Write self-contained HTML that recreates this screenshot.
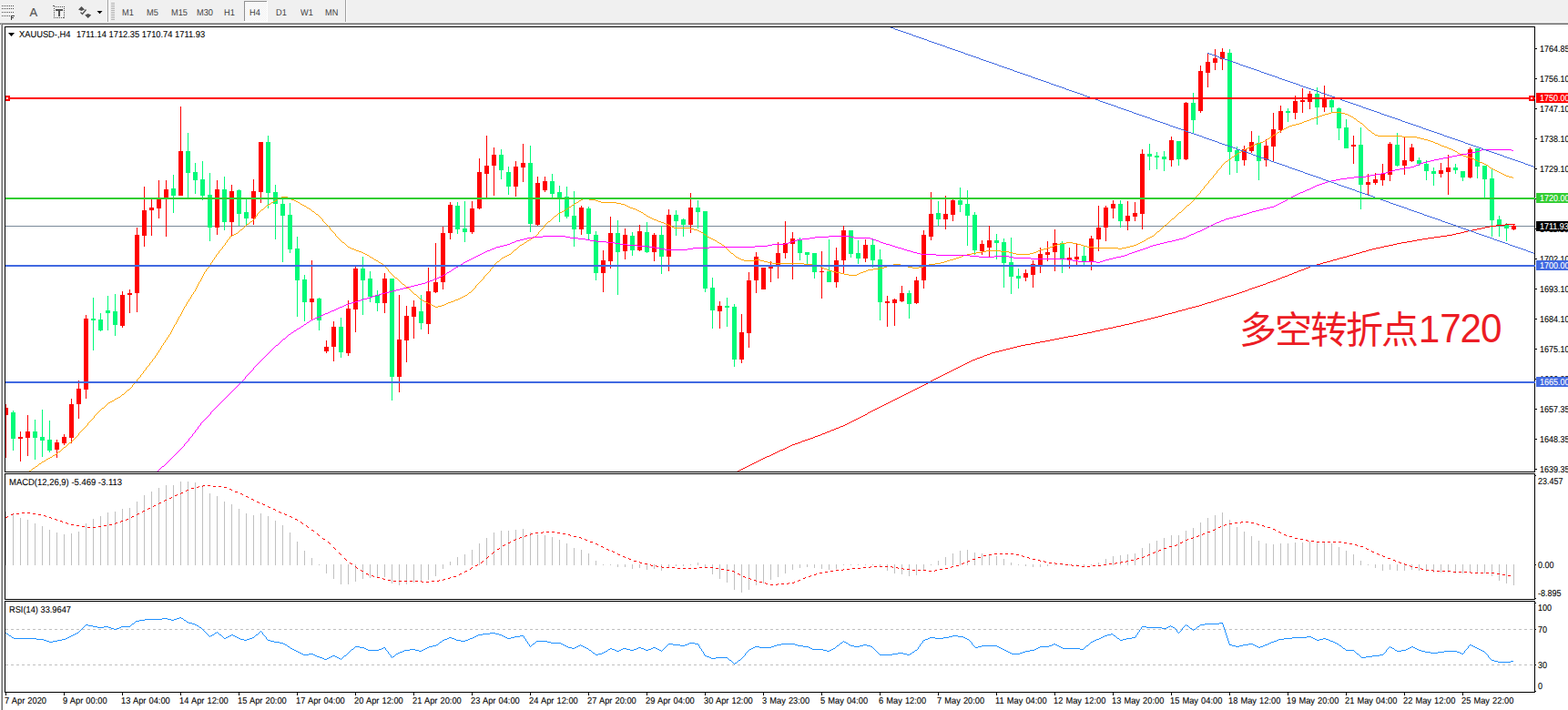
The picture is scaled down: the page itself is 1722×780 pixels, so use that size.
<!DOCTYPE html>
<html><head><meta charset="utf-8"><title>XAUUSD H4</title>
<style>
html,body{margin:0;padding:0;background:#fff;}
body{width:1722px;height:780px;position:relative;overflow:hidden;font-family:"Liberation Sans",sans-serif;}
.t{position:absolute;font-family:"Liberation Sans",sans-serif;font-size:10px;line-height:11px;text-rendering:geometricPrecision;-webkit-text-stroke:0.1px;color:#000;white-space:nowrap;transform-origin:0 0;}
.ax{transform:scaleX(.9);}
.tm{transform:scaleX(.928);word-spacing:0.6px;}
.tf{transform:scaleX(.92);color:#404040;-webkit-text-stroke:0;}
</style></head><body>
<div style="position:absolute;left:0;top:0;width:1722px;height:25px;background:#F0F0F0"></div><div style="position:absolute;left:0;top:24px;width:1722px;height:1px;background:#F6F6F6"></div><div style="position:absolute;left:0;top:25px;width:1722px;height:1px;background:#A8A8A8"></div><div style="position:absolute;left:0;top:26px;width:1722px;height:1px;background:#6E6E6E"></div><div style="position:absolute;left:1px;top:26px;width:1px;height:754px;background:#B0B0B0"></div><div style="position:absolute;left:2px;top:26px;width:1px;height:754px;background:#6E6E6E"></div><div style="position:absolute;left:118px;top:0;width:1px;height:24px;background:#A0A0A0"></div><div style="position:absolute;left:119px;top:0;width:1px;height:24px;background:#FFFFFF"></div><div style="position:absolute;left:379px;top:0;width:1px;height:24px;background:#A0A0A0"></div><div style="position:absolute;left:380px;top:0;width:1px;height:24px;background:#FFFFFF"></div><svg style="position:absolute;left:0;top:0" width="400" height="25" shape-rendering="crispEdges">
<rect x="122" y="3" width="4" height="1" fill="#B4B4B4"/><rect x="122" y="5" width="4" height="1" fill="#B4B4B4"/><rect x="122" y="7" width="4" height="1" fill="#B4B4B4"/><rect x="122" y="9" width="4" height="1" fill="#B4B4B4"/><rect x="122" y="11" width="4" height="1" fill="#B4B4B4"/><rect x="122" y="13" width="4" height="1" fill="#B4B4B4"/><rect x="122" y="15" width="4" height="1" fill="#B4B4B4"/><rect x="122" y="17" width="4" height="1" fill="#B4B4B4"/><rect x="122" y="19" width="4" height="1" fill="#B4B4B4"/><rect x="122" y="21" width="4" height="1" fill="#B4B4B4"/>
<g stroke="#505050" stroke-width="1" stroke-dasharray="1 1">
<line x1="2" y1="6.5" x2="15" y2="6.5"/><line x1="2" y1="9.5" x2="15" y2="9.5"/><line x1="2" y1="13.5" x2="15" y2="13.5"/><line x1="2" y1="17.5" x2="11" y2="17.5"/>
<rect x="59.5" y="7.5" width="11" height="12" fill="none"/>
</g>
<path d="M12 17h4v1h-3v1h2v1h-2v2h-1z" fill="#404040"/>
<path d="M61 10h8v2h-3v6h-2v-6h-3z" fill="#555"/>
<path d="M58 6h2v1h1v1h-1v-1h-2z" fill="#555"/>
<g shape-rendering="auto"><path d="M89.5 7l3.5 3.5h-7z M86 10.5h7l-3.5 1.5z" fill="#505050"/><path d="M96.7 20l3.5-3.5h-7z M93.2 16.500h7l-3.5-1.5z" fill="#505050"/><path d="M88.5 13.500l2 2 4-5" fill="none" stroke="#505050" stroke-width="1.3"/></g>
<path d="M106.500 12h6l-3 3.300z" fill="#000" shape-rendering="auto"/>
<defs><pattern id="chk" width="2" height="2" patternUnits="userSpaceOnUse"><rect width="2" height="2" fill="#F0F0F0"/><rect width="1" height="1" fill="#FFF"/><rect x="1" y="1" width="1" height="1" fill="#FFF"/></pattern></defs>
<rect x="269" y="2" width="24" height="21" fill="url(#chk)"/>
<rect x="268" y="1" width="25" height="1" fill="#909090"/><rect x="268" y="1" width="1" height="22" fill="#909090"/>
<rect x="293" y="1" width="1" height="23" fill="#FFF"/><rect x="268" y="23" width="26" height="1" fill="#FFF"/>
</svg><div class="t" style="left:32.500px;top:6.500px;font-size:13px;color:#555;line-height:14px;-webkit-text-stroke:0.15px #555">A</div><div class="t tf" style="left:133.6px;top:9px">M1</div><div class="t tf" style="left:161.4px;top:9px">M5</div><div class="t tf" style="left:187.5px;top:9px">M15</div><div class="t tf" style="left:215.8px;top:9px">M30</div><div class="t tf" style="left:246.4px;top:9px">H1</div><div class="t tf" style="left:273.7px;top:9px">H4</div><div class="t tf" style="left:302.5px;top:9px">D1</div><div class="t tf" style="left:329.8px;top:9px">W1</div><div class="t tf" style="left:356.7px;top:9px">MN</div>
<svg style="position:absolute;left:0;top:0" width="1722" height="780" shape-rendering="crispEdges">
<defs><clipPath id="cm"><rect x="6" y="30" width="1679" height="488"/></clipPath><clipPath id="cd"><rect x="6" y="521" width="1679" height="137"/></clipPath><clipPath id="cr"><rect x="6" y="661" width="1679" height="99"/></clipPath></defs>
<g clip-path="url(#cm)">
<rect x="5" y="248" width="1680" height="1" fill="#7A8A9A"/>
<rect x="6" y="444" width="1" height="59" fill="#FF0000"/>
<rect x="4" y="448" width="5" height="8" fill="#FF0000"/>
<rect x="14" y="451" width="1" height="44" fill="#00FA78"/>
<rect x="12" y="453" width="5" height="29" fill="#00FA78"/>
<rect x="22" y="474" width="1" height="33" fill="#FF0000"/>
<rect x="20" y="480" width="5" height="2" fill="#FF0000"/>
<rect x="30" y="456" width="1" height="45" fill="#FF0000"/>
<rect x="28" y="474" width="5" height="7" fill="#FF0000"/>
<rect x="38" y="461" width="1" height="44" fill="#00FA78"/>
<rect x="36" y="474" width="5" height="7" fill="#00FA78"/>
<rect x="46" y="450" width="1" height="52" fill="#00FA78"/>
<rect x="44" y="480" width="5" height="4" fill="#00FA78"/>
<rect x="54" y="462" width="1" height="35" fill="#00FA78"/>
<rect x="52" y="483" width="5" height="12" fill="#00FA78"/>
<rect x="62" y="483" width="1" height="20" fill="#FF0000"/>
<rect x="60" y="486" width="5" height="8" fill="#FF0000"/>
<rect x="70" y="477" width="1" height="12" fill="#FF0000"/>
<rect x="68" y="480" width="5" height="7" fill="#FF0000"/>
<rect x="78" y="438" width="1" height="49" fill="#FF0000"/>
<rect x="76" y="444" width="5" height="37" fill="#FF0000"/>
<rect x="86" y="418" width="1" height="42" fill="#FF0000"/>
<rect x="84" y="427" width="5" height="17" fill="#FF0000"/>
<rect x="94" y="346" width="1" height="92" fill="#FF0000"/>
<rect x="92" y="350" width="5" height="78" fill="#FF0000"/>
<rect x="102" y="327" width="1" height="58" fill="#00FA78"/>
<rect x="100" y="350" width="5" height="2" fill="#00FA78"/>
<rect x="110" y="344" width="1" height="20" fill="#00FA78"/>
<rect x="108" y="351" width="5" height="12" fill="#00FA78"/>
<rect x="118" y="325" width="1" height="38" fill="#00FA78"/>
<rect x="116" y="341" width="5" height="3" fill="#00FA78"/>
<rect x="126" y="323" width="1" height="46" fill="#00FA78"/>
<rect x="124" y="342" width="5" height="15" fill="#00FA78"/>
<rect x="134" y="320" width="1" height="40" fill="#FF0000"/>
<rect x="132" y="324" width="5" height="34" fill="#FF0000"/>
<rect x="142" y="318" width="1" height="26" fill="#FF0000"/>
<rect x="140" y="322" width="5" height="2" fill="#FF0000"/>
<rect x="150" y="250" width="1" height="93" fill="#FF0000"/>
<rect x="148" y="258" width="5" height="64" fill="#FF0000"/>
<rect x="158" y="205" width="1" height="66" fill="#FF0000"/>
<rect x="156" y="231" width="5" height="28" fill="#FF0000"/>
<rect x="166" y="218" width="1" height="41" fill="#FF0000"/>
<rect x="164" y="228" width="5" height="3" fill="#FF0000"/>
<rect x="174" y="198" width="1" height="42" fill="#FF0000"/>
<rect x="172" y="218" width="5" height="11" fill="#FF0000"/>
<rect x="182" y="198" width="1" height="62" fill="#FF0000"/>
<rect x="180" y="208" width="5" height="10" fill="#FF0000"/>
<rect x="190" y="192" width="1" height="42" fill="#00FA78"/>
<rect x="188" y="207" width="5" height="8" fill="#00FA78"/>
<rect x="198" y="117" width="1" height="98" fill="#FF0000"/>
<rect x="196" y="166" width="5" height="49" fill="#FF0000"/>
<rect x="206" y="146" width="1" height="71" fill="#00FA78"/>
<rect x="204" y="166" width="5" height="24" fill="#00FA78"/>
<rect x="214" y="179" width="1" height="34" fill="#00FA78"/>
<rect x="212" y="189" width="5" height="9" fill="#00FA78"/>
<rect x="222" y="177" width="1" height="43" fill="#00FA78"/>
<rect x="220" y="197" width="5" height="18" fill="#00FA78"/>
<rect x="230" y="190" width="1" height="75" fill="#00FA78"/>
<rect x="228" y="214" width="5" height="36" fill="#00FA78"/>
<rect x="238" y="198" width="1" height="60" fill="#FF0000"/>
<rect x="236" y="208" width="5" height="42" fill="#FF0000"/>
<rect x="246" y="194" width="1" height="59" fill="#00FA78"/>
<rect x="244" y="208" width="5" height="36" fill="#00FA78"/>
<rect x="254" y="203" width="1" height="56" fill="#FF0000"/>
<rect x="252" y="210" width="5" height="34" fill="#FF0000"/>
<rect x="262" y="208" width="1" height="40" fill="#00FA78"/>
<rect x="260" y="209" width="5" height="26" fill="#00FA78"/>
<rect x="270" y="218" width="1" height="30" fill="#00FA78"/>
<rect x="268" y="233" width="5" height="7" fill="#00FA78"/>
<rect x="278" y="197" width="1" height="50" fill="#FF0000"/>
<rect x="276" y="210" width="5" height="30" fill="#FF0000"/>
<rect x="286" y="156" width="1" height="67" fill="#FF0000"/>
<rect x="284" y="156" width="5" height="55" fill="#FF0000"/>
<rect x="294" y="149" width="1" height="80" fill="#00FA78"/>
<rect x="292" y="156" width="5" height="56" fill="#00FA78"/>
<rect x="302" y="203" width="1" height="60" fill="#00FA78"/>
<rect x="300" y="211" width="5" height="13" fill="#00FA78"/>
<rect x="310" y="216" width="1" height="72" fill="#00FA78"/>
<rect x="308" y="224" width="5" height="13" fill="#00FA78"/>
<rect x="318" y="223" width="1" height="55" fill="#00FA78"/>
<rect x="316" y="236" width="5" height="38" fill="#00FA78"/>
<rect x="326" y="260" width="1" height="88" fill="#00FA78"/>
<rect x="324" y="273" width="5" height="35" fill="#00FA78"/>
<rect x="334" y="302" width="1" height="51" fill="#00FA78"/>
<rect x="332" y="307" width="5" height="25" fill="#00FA78"/>
<rect x="342" y="286" width="1" height="66" fill="#FF0000"/>
<rect x="340" y="328" width="5" height="4" fill="#FF0000"/>
<rect x="350" y="327" width="1" height="36" fill="#00FA78"/>
<rect x="348" y="328" width="5" height="24" fill="#00FA78"/>
<rect x="358" y="374" width="1" height="14" fill="#FF0000"/>
<rect x="356" y="381" width="5" height="5" fill="#FF0000"/>
<rect x="366" y="353" width="1" height="44" fill="#FF0000"/>
<rect x="364" y="359" width="5" height="22" fill="#FF0000"/>
<rect x="374" y="349" width="1" height="44" fill="#00FA78"/>
<rect x="372" y="359" width="5" height="28" fill="#00FA78"/>
<rect x="382" y="330" width="1" height="61" fill="#FF0000"/>
<rect x="380" y="339" width="5" height="49" fill="#FF0000"/>
<rect x="390" y="293" width="1" height="72" fill="#FF0000"/>
<rect x="388" y="295" width="5" height="45" fill="#FF0000"/>
<rect x="398" y="282" width="1" height="64" fill="#00FA78"/>
<rect x="396" y="295" width="5" height="13" fill="#00FA78"/>
<rect x="406" y="298" width="1" height="34" fill="#00FA78"/>
<rect x="404" y="306" width="5" height="20" fill="#00FA78"/>
<rect x="414" y="319" width="1" height="23" fill="#00FA78"/>
<rect x="412" y="324" width="5" height="9" fill="#00FA78"/>
<rect x="422" y="300" width="1" height="44" fill="#FF0000"/>
<rect x="420" y="306" width="5" height="27" fill="#FF0000"/>
<rect x="430" y="306" width="1" height="134" fill="#00FA78"/>
<rect x="428" y="306" width="5" height="108" fill="#00FA78"/>
<rect x="438" y="324" width="1" height="107" fill="#FF0000"/>
<rect x="436" y="373" width="5" height="41" fill="#FF0000"/>
<rect x="446" y="336" width="1" height="62" fill="#FF0000"/>
<rect x="444" y="347" width="5" height="27" fill="#FF0000"/>
<rect x="454" y="330" width="1" height="42" fill="#FF0000"/>
<rect x="452" y="337" width="5" height="11" fill="#FF0000"/>
<rect x="462" y="324" width="1" height="38" fill="#00FA78"/>
<rect x="460" y="342" width="5" height="13" fill="#00FA78"/>
<rect x="470" y="294" width="1" height="73" fill="#FF0000"/>
<rect x="468" y="320" width="5" height="36" fill="#FF0000"/>
<rect x="478" y="267" width="1" height="55" fill="#FF0000"/>
<rect x="476" y="310" width="5" height="11" fill="#FF0000"/>
<rect x="486" y="249" width="1" height="69" fill="#FF0000"/>
<rect x="484" y="256" width="5" height="54" fill="#FF0000"/>
<rect x="494" y="222" width="1" height="41" fill="#FF0000"/>
<rect x="492" y="225" width="5" height="31" fill="#FF0000"/>
<rect x="502" y="222" width="1" height="35" fill="#00FA78"/>
<rect x="500" y="226" width="5" height="26" fill="#00FA78"/>
<rect x="510" y="221" width="1" height="45" fill="#00FA78"/>
<rect x="508" y="251" width="5" height="4" fill="#00FA78"/>
<rect x="518" y="221" width="1" height="36" fill="#FF0000"/>
<rect x="516" y="229" width="5" height="26" fill="#FF0000"/>
<rect x="526" y="174" width="1" height="56" fill="#FF0000"/>
<rect x="524" y="189" width="5" height="40" fill="#FF0000"/>
<rect x="534" y="149" width="1" height="68" fill="#FF0000"/>
<rect x="532" y="182" width="5" height="9" fill="#FF0000"/>
<rect x="542" y="162" width="1" height="53" fill="#FF0000"/>
<rect x="540" y="170" width="5" height="12" fill="#FF0000"/>
<rect x="550" y="164" width="1" height="33" fill="#00FA78"/>
<rect x="548" y="170" width="5" height="17" fill="#00FA78"/>
<rect x="558" y="183" width="1" height="31" fill="#00FA78"/>
<rect x="556" y="189" width="5" height="16" fill="#00FA78"/>
<rect x="566" y="177" width="1" height="39" fill="#FF0000"/>
<rect x="564" y="183" width="5" height="22" fill="#FF0000"/>
<rect x="574" y="158" width="1" height="42" fill="#FF0000"/>
<rect x="572" y="179" width="5" height="5" fill="#FF0000"/>
<rect x="582" y="160" width="1" height="95" fill="#00FA78"/>
<rect x="580" y="179" width="5" height="67" fill="#00FA78"/>
<rect x="590" y="194" width="1" height="54" fill="#FF0000"/>
<rect x="588" y="201" width="5" height="46" fill="#FF0000"/>
<rect x="598" y="194" width="1" height="17" fill="#FF0000"/>
<rect x="596" y="199" width="5" height="10" fill="#FF0000"/>
<rect x="606" y="191" width="1" height="26" fill="#00FA78"/>
<rect x="604" y="199" width="5" height="14" fill="#00FA78"/>
<rect x="614" y="204" width="1" height="40" fill="#00FA78"/>
<rect x="612" y="211" width="5" height="6" fill="#00FA78"/>
<rect x="622" y="205" width="1" height="35" fill="#00FA78"/>
<rect x="620" y="216" width="5" height="22" fill="#00FA78"/>
<rect x="630" y="210" width="1" height="61" fill="#00FA78"/>
<rect x="628" y="237" width="5" height="15" fill="#00FA78"/>
<rect x="638" y="226" width="1" height="32" fill="#FF0000"/>
<rect x="636" y="228" width="5" height="24" fill="#FF0000"/>
<rect x="646" y="227" width="1" height="36" fill="#00FA78"/>
<rect x="644" y="229" width="5" height="28" fill="#00FA78"/>
<rect x="654" y="254" width="1" height="54" fill="#00FA78"/>
<rect x="652" y="258" width="5" height="42" fill="#00FA78"/>
<rect x="662" y="275" width="1" height="46" fill="#FF0000"/>
<rect x="660" y="286" width="5" height="14" fill="#FF0000"/>
<rect x="670" y="238" width="1" height="57" fill="#FF0000"/>
<rect x="668" y="256" width="5" height="31" fill="#FF0000"/>
<rect x="678" y="242" width="1" height="82" fill="#00FA78"/>
<rect x="676" y="256" width="5" height="21" fill="#00FA78"/>
<rect x="686" y="251" width="1" height="34" fill="#FF0000"/>
<rect x="684" y="258" width="5" height="18" fill="#FF0000"/>
<rect x="694" y="255" width="1" height="26" fill="#00FA78"/>
<rect x="692" y="259" width="5" height="16" fill="#00FA78"/>
<rect x="702" y="247" width="1" height="29" fill="#FF0000"/>
<rect x="700" y="254" width="5" height="21" fill="#FF0000"/>
<rect x="710" y="244" width="1" height="34" fill="#00FA78"/>
<rect x="708" y="255" width="5" height="22" fill="#00FA78"/>
<rect x="718" y="256" width="1" height="31" fill="#FF0000"/>
<rect x="716" y="258" width="5" height="19" fill="#FF0000"/>
<rect x="726" y="248" width="1" height="53" fill="#00FA78"/>
<rect x="724" y="258" width="5" height="24" fill="#00FA78"/>
<rect x="734" y="230" width="1" height="68" fill="#FF0000"/>
<rect x="732" y="236" width="5" height="46" fill="#FF0000"/>
<rect x="742" y="231" width="1" height="28" fill="#00FA78"/>
<rect x="740" y="236" width="5" height="7" fill="#00FA78"/>
<rect x="750" y="240" width="1" height="20" fill="#00FA78"/>
<rect x="748" y="241" width="5" height="6" fill="#00FA78"/>
<rect x="758" y="212" width="1" height="44" fill="#FF0000"/>
<rect x="756" y="228" width="5" height="19" fill="#FF0000"/>
<rect x="766" y="220" width="1" height="31" fill="#00FA78"/>
<rect x="764" y="228" width="5" height="5" fill="#00FA78"/>
<rect x="774" y="232" width="1" height="89" fill="#00FA78"/>
<rect x="772" y="232" width="5" height="85" fill="#00FA78"/>
<rect x="782" y="305" width="1" height="56" fill="#00FA78"/>
<rect x="780" y="316" width="5" height="25" fill="#00FA78"/>
<rect x="790" y="331" width="1" height="30" fill="#FF0000"/>
<rect x="788" y="336" width="5" height="6" fill="#FF0000"/>
<rect x="798" y="327" width="1" height="32" fill="#00FA78"/>
<rect x="796" y="336" width="5" height="2" fill="#00FA78"/>
<rect x="806" y="334" width="1" height="69" fill="#00FA78"/>
<rect x="804" y="337" width="5" height="58" fill="#00FA78"/>
<rect x="814" y="345" width="1" height="54" fill="#FF0000"/>
<rect x="812" y="365" width="5" height="30" fill="#FF0000"/>
<rect x="822" y="299" width="1" height="83" fill="#FF0000"/>
<rect x="820" y="308" width="5" height="58" fill="#FF0000"/>
<rect x="830" y="277" width="1" height="45" fill="#FF0000"/>
<rect x="828" y="282" width="5" height="26" fill="#FF0000"/>
<rect x="838" y="294" width="1" height="24" fill="#FF0000"/>
<rect x="836" y="294" width="5" height="24" fill="#FF0000"/>
<rect x="846" y="287" width="1" height="23" fill="#FF0000"/>
<rect x="844" y="292" width="5" height="3" fill="#FF0000"/>
<rect x="854" y="266" width="1" height="40" fill="#FF0000"/>
<rect x="852" y="278" width="5" height="14" fill="#FF0000"/>
<rect x="862" y="243" width="1" height="41" fill="#FF0000"/>
<rect x="860" y="267" width="5" height="11" fill="#FF0000"/>
<rect x="870" y="255" width="1" height="52" fill="#FF0000"/>
<rect x="868" y="262" width="5" height="6" fill="#FF0000"/>
<rect x="878" y="261" width="1" height="25" fill="#00FA78"/>
<rect x="876" y="263" width="5" height="15" fill="#00FA78"/>
<rect x="886" y="277" width="1" height="13" fill="#00FA78"/>
<rect x="884" y="277" width="5" height="3" fill="#00FA78"/>
<rect x="894" y="278" width="1" height="28" fill="#00FA78"/>
<rect x="892" y="278" width="5" height="21" fill="#00FA78"/>
<rect x="902" y="276" width="1" height="52" fill="#FF0000"/>
<rect x="900" y="298" width="5" height="1" fill="#FF0000"/>
<rect x="910" y="263" width="1" height="47" fill="#00FA78"/>
<rect x="908" y="298" width="5" height="12" fill="#00FA78"/>
<rect x="918" y="272" width="1" height="44" fill="#FF0000"/>
<rect x="916" y="286" width="5" height="24" fill="#FF0000"/>
<rect x="926" y="248" width="1" height="52" fill="#FF0000"/>
<rect x="924" y="253" width="5" height="33" fill="#FF0000"/>
<rect x="934" y="253" width="1" height="30" fill="#00FA78"/>
<rect x="932" y="253" width="5" height="26" fill="#00FA78"/>
<rect x="942" y="264" width="1" height="26" fill="#00FA78"/>
<rect x="940" y="278" width="5" height="6" fill="#00FA78"/>
<rect x="950" y="263" width="1" height="25" fill="#FF0000"/>
<rect x="948" y="269" width="5" height="15" fill="#FF0000"/>
<rect x="958" y="263" width="1" height="31" fill="#00FA78"/>
<rect x="956" y="269" width="5" height="17" fill="#00FA78"/>
<rect x="966" y="274" width="1" height="78" fill="#00FA78"/>
<rect x="964" y="285" width="5" height="47" fill="#00FA78"/>
<rect x="974" y="325" width="1" height="34" fill="#FF0000"/>
<rect x="972" y="331" width="5" height="2" fill="#FF0000"/>
<rect x="982" y="328" width="1" height="30" fill="#FF0000"/>
<rect x="980" y="329" width="5" height="4" fill="#FF0000"/>
<rect x="990" y="314" width="1" height="18" fill="#FF0000"/>
<rect x="988" y="322" width="5" height="9" fill="#FF0000"/>
<rect x="998" y="319" width="1" height="31" fill="#00FA78"/>
<rect x="996" y="322" width="5" height="12" fill="#00FA78"/>
<rect x="1006" y="304" width="1" height="30" fill="#FF0000"/>
<rect x="1004" y="308" width="5" height="25" fill="#FF0000"/>
<rect x="1014" y="253" width="1" height="64" fill="#FF0000"/>
<rect x="1012" y="258" width="5" height="50" fill="#FF0000"/>
<rect x="1022" y="211" width="1" height="53" fill="#FF0000"/>
<rect x="1020" y="235" width="5" height="25" fill="#FF0000"/>
<rect x="1030" y="221" width="1" height="27" fill="#00FA78"/>
<rect x="1028" y="234" width="5" height="7" fill="#00FA78"/>
<rect x="1038" y="215" width="1" height="37" fill="#FF0000"/>
<rect x="1036" y="235" width="5" height="6" fill="#FF0000"/>
<rect x="1046" y="219" width="1" height="24" fill="#FF0000"/>
<rect x="1044" y="220" width="5" height="16" fill="#FF0000"/>
<rect x="1054" y="206" width="1" height="27" fill="#00FA78"/>
<rect x="1052" y="220" width="5" height="5" fill="#00FA78"/>
<rect x="1062" y="209" width="1" height="61" fill="#00FA78"/>
<rect x="1060" y="224" width="5" height="13" fill="#00FA78"/>
<rect x="1070" y="233" width="1" height="47" fill="#00FA78"/>
<rect x="1068" y="236" width="5" height="39" fill="#00FA78"/>
<rect x="1078" y="264" width="1" height="16" fill="#FF0000"/>
<rect x="1076" y="268" width="5" height="8" fill="#FF0000"/>
<rect x="1086" y="248" width="1" height="34" fill="#FF0000"/>
<rect x="1084" y="264" width="5" height="8" fill="#FF0000"/>
<rect x="1094" y="257" width="1" height="28" fill="#00FA78"/>
<rect x="1092" y="264" width="5" height="3" fill="#00FA78"/>
<rect x="1102" y="262" width="1" height="54" fill="#00FA78"/>
<rect x="1100" y="266" width="5" height="23" fill="#00FA78"/>
<rect x="1110" y="261" width="1" height="62" fill="#00FA78"/>
<rect x="1108" y="288" width="5" height="16" fill="#00FA78"/>
<rect x="1118" y="295" width="1" height="22" fill="#00FA78"/>
<rect x="1116" y="303" width="5" height="3" fill="#00FA78"/>
<rect x="1126" y="296" width="1" height="13" fill="#FF0000"/>
<rect x="1124" y="300" width="5" height="5" fill="#FF0000"/>
<rect x="1134" y="286" width="1" height="30" fill="#FF0000"/>
<rect x="1132" y="290" width="5" height="12" fill="#FF0000"/>
<rect x="1142" y="272" width="1" height="28" fill="#FF0000"/>
<rect x="1140" y="279" width="5" height="12" fill="#FF0000"/>
<rect x="1150" y="265" width="1" height="22" fill="#FF0000"/>
<rect x="1148" y="277" width="5" height="3" fill="#FF0000"/>
<rect x="1158" y="252" width="1" height="46" fill="#FF0000"/>
<rect x="1156" y="267" width="5" height="10" fill="#FF0000"/>
<rect x="1166" y="265" width="1" height="35" fill="#00FA78"/>
<rect x="1164" y="267" width="5" height="18" fill="#00FA78"/>
<rect x="1174" y="272" width="1" height="23" fill="#FF0000"/>
<rect x="1172" y="283" width="5" height="2" fill="#FF0000"/>
<rect x="1182" y="268" width="1" height="23" fill="#FF0000"/>
<rect x="1180" y="282" width="5" height="3" fill="#FF0000"/>
<rect x="1190" y="271" width="1" height="21" fill="#00FA78"/>
<rect x="1188" y="281" width="5" height="6" fill="#00FA78"/>
<rect x="1198" y="259" width="1" height="38" fill="#FF0000"/>
<rect x="1196" y="262" width="5" height="25" fill="#FF0000"/>
<rect x="1206" y="226" width="1" height="50" fill="#FF0000"/>
<rect x="1204" y="250" width="5" height="13" fill="#FF0000"/>
<rect x="1214" y="226" width="1" height="39" fill="#FF0000"/>
<rect x="1212" y="228" width="5" height="22" fill="#FF0000"/>
<rect x="1222" y="220" width="1" height="20" fill="#FF0000"/>
<rect x="1220" y="224" width="5" height="5" fill="#FF0000"/>
<rect x="1230" y="220" width="1" height="30" fill="#00FA78"/>
<rect x="1228" y="224" width="5" height="19" fill="#00FA78"/>
<rect x="1238" y="221" width="1" height="32" fill="#FF0000"/>
<rect x="1236" y="237" width="5" height="6" fill="#FF0000"/>
<rect x="1246" y="222" width="1" height="21" fill="#FF0000"/>
<rect x="1244" y="234" width="5" height="4" fill="#FF0000"/>
<rect x="1254" y="164" width="1" height="88" fill="#FF0000"/>
<rect x="1252" y="169" width="5" height="66" fill="#FF0000"/>
<rect x="1262" y="158" width="1" height="29" fill="#00FA78"/>
<rect x="1260" y="169" width="5" height="3" fill="#00FA78"/>
<rect x="1270" y="167" width="1" height="19" fill="#00FA78"/>
<rect x="1268" y="171" width="5" height="2" fill="#00FA78"/>
<rect x="1278" y="166" width="1" height="22" fill="#00FA78"/>
<rect x="1276" y="172" width="5" height="3" fill="#00FA78"/>
<rect x="1286" y="150" width="1" height="33" fill="#FF0000"/>
<rect x="1284" y="154" width="5" height="22" fill="#FF0000"/>
<rect x="1294" y="155" width="1" height="27" fill="#00FA78"/>
<rect x="1292" y="155" width="5" height="20" fill="#00FA78"/>
<rect x="1302" y="112" width="1" height="64" fill="#FF0000"/>
<rect x="1300" y="113" width="5" height="62" fill="#FF0000"/>
<rect x="1310" y="102" width="1" height="44" fill="#00FA78"/>
<rect x="1308" y="113" width="5" height="19" fill="#00FA78"/>
<rect x="1318" y="72" width="1" height="52" fill="#FF0000"/>
<rect x="1316" y="78" width="5" height="44" fill="#FF0000"/>
<rect x="1326" y="58" width="1" height="38" fill="#FF0000"/>
<rect x="1324" y="68" width="5" height="12" fill="#FF0000"/>
<rect x="1334" y="54" width="1" height="23" fill="#FF0000"/>
<rect x="1332" y="64" width="5" height="5" fill="#FF0000"/>
<rect x="1342" y="53" width="1" height="24" fill="#FF0000"/>
<rect x="1340" y="57" width="5" height="8" fill="#FF0000"/>
<rect x="1350" y="54" width="1" height="138" fill="#00FA78"/>
<rect x="1348" y="58" width="5" height="109" fill="#00FA78"/>
<rect x="1358" y="161" width="1" height="29" fill="#00FA78"/>
<rect x="1356" y="165" width="5" height="12" fill="#00FA78"/>
<rect x="1366" y="160" width="1" height="22" fill="#FF0000"/>
<rect x="1364" y="164" width="5" height="12" fill="#FF0000"/>
<rect x="1374" y="144" width="1" height="24" fill="#FF0000"/>
<rect x="1372" y="156" width="5" height="10" fill="#FF0000"/>
<rect x="1382" y="149" width="1" height="49" fill="#00FA78"/>
<rect x="1380" y="157" width="5" height="20" fill="#00FA78"/>
<rect x="1390" y="153" width="1" height="30" fill="#FF0000"/>
<rect x="1388" y="160" width="5" height="16" fill="#FF0000"/>
<rect x="1398" y="124" width="1" height="54" fill="#FF0000"/>
<rect x="1396" y="142" width="5" height="19" fill="#FF0000"/>
<rect x="1406" y="116" width="1" height="30" fill="#FF0000"/>
<rect x="1404" y="122" width="5" height="21" fill="#FF0000"/>
<rect x="1414" y="119" width="1" height="15" fill="#00FA78"/>
<rect x="1412" y="122" width="5" height="2" fill="#00FA78"/>
<rect x="1422" y="105" width="1" height="26" fill="#FF0000"/>
<rect x="1420" y="111" width="5" height="13" fill="#FF0000"/>
<rect x="1430" y="97" width="1" height="27" fill="#FF0000"/>
<rect x="1428" y="110" width="5" height="2" fill="#FF0000"/>
<rect x="1438" y="100" width="1" height="20" fill="#FF0000"/>
<rect x="1436" y="103" width="5" height="9" fill="#FF0000"/>
<rect x="1446" y="96" width="1" height="41" fill="#00FA78"/>
<rect x="1444" y="103" width="5" height="15" fill="#00FA78"/>
<rect x="1454" y="94" width="1" height="29" fill="#FF0000"/>
<rect x="1452" y="108" width="5" height="10" fill="#FF0000"/>
<rect x="1462" y="109" width="1" height="15" fill="#00FA78"/>
<rect x="1460" y="110" width="5" height="8" fill="#00FA78"/>
<rect x="1470" y="118" width="1" height="36" fill="#00FA78"/>
<rect x="1468" y="119" width="5" height="22" fill="#00FA78"/>
<rect x="1478" y="131" width="1" height="32" fill="#00FA78"/>
<rect x="1476" y="140" width="5" height="23" fill="#00FA78"/>
<rect x="1486" y="149" width="1" height="31" fill="#FF0000"/>
<rect x="1484" y="159" width="5" height="2" fill="#FF0000"/>
<rect x="1494" y="140" width="1" height="90" fill="#00FA78"/>
<rect x="1492" y="159" width="5" height="44" fill="#00FA78"/>
<rect x="1502" y="191" width="1" height="23" fill="#FF0000"/>
<rect x="1500" y="200" width="5" height="3" fill="#FF0000"/>
<rect x="1510" y="190" width="1" height="13" fill="#FF0000"/>
<rect x="1508" y="197" width="5" height="4" fill="#FF0000"/>
<rect x="1518" y="180" width="1" height="24" fill="#FF0000"/>
<rect x="1516" y="191" width="5" height="7" fill="#FF0000"/>
<rect x="1526" y="156" width="1" height="43" fill="#FF0000"/>
<rect x="1524" y="158" width="5" height="34" fill="#FF0000"/>
<rect x="1534" y="146" width="1" height="37" fill="#00FA78"/>
<rect x="1532" y="159" width="5" height="23" fill="#00FA78"/>
<rect x="1542" y="151" width="1" height="41" fill="#FF0000"/>
<rect x="1540" y="176" width="5" height="6" fill="#FF0000"/>
<rect x="1550" y="158" width="1" height="20" fill="#FF0000"/>
<rect x="1548" y="162" width="5" height="15" fill="#FF0000"/>
<rect x="1558" y="173" width="1" height="9" fill="#00FA78"/>
<rect x="1556" y="176" width="5" height="4" fill="#00FA78"/>
<rect x="1566" y="176" width="1" height="22" fill="#00FA78"/>
<rect x="1564" y="180" width="5" height="8" fill="#00FA78"/>
<rect x="1574" y="184" width="1" height="20" fill="#00FA78"/>
<rect x="1572" y="188" width="5" height="3" fill="#00FA78"/>
<rect x="1582" y="179" width="1" height="16" fill="#FF0000"/>
<rect x="1580" y="187" width="5" height="4" fill="#FF0000"/>
<rect x="1590" y="170" width="1" height="44" fill="#FF0000"/>
<rect x="1588" y="184" width="5" height="5" fill="#FF0000"/>
<rect x="1598" y="180" width="1" height="11" fill="#00FA78"/>
<rect x="1596" y="184" width="5" height="3" fill="#00FA78"/>
<rect x="1606" y="188" width="1" height="11" fill="#00FA78"/>
<rect x="1604" y="188" width="5" height="7" fill="#00FA78"/>
<rect x="1614" y="162" width="1" height="34" fill="#FF0000"/>
<rect x="1612" y="164" width="5" height="31" fill="#FF0000"/>
<rect x="1622" y="163" width="1" height="33" fill="#00FA78"/>
<rect x="1620" y="163" width="5" height="20" fill="#00FA78"/>
<rect x="1630" y="182" width="1" height="35" fill="#00FA78"/>
<rect x="1628" y="182" width="5" height="15" fill="#00FA78"/>
<rect x="1638" y="186" width="1" height="74" fill="#00FA78"/>
<rect x="1636" y="196" width="5" height="46" fill="#00FA78"/>
<rect x="1646" y="237" width="1" height="23" fill="#00FA78"/>
<rect x="1644" y="241" width="5" height="7" fill="#00FA78"/>
<rect x="1654" y="245" width="1" height="20" fill="#00FA78"/>
<rect x="1652" y="247" width="5" height="4" fill="#00FA78"/>
<rect x="1662" y="246" width="1" height="7" fill="#FF0000"/>
<rect x="1660" y="248" width="5" height="4" fill="#FF0000"/>
<path d="M31 518h1v1h-1zM32 517h2v1h-2zM34 516h1v1h-1zM35 515h1v1h-1zM36 514h2v1h-2zM38 513h1v1h-1zM39 512h2v1h-2zM41 511h1v1h-1zM42 510h1v1h-1zM43 509h2v1h-2zM45 508h1v1h-1zM46 507h2v1h-2zM48 506h2v1h-2zM50 505h1v1h-1zM51 504h2v1h-2zM53 503h2v1h-2zM55 502h2v1h-2zM57 501h1v1h-1zM58 500h2v1h-2zM60 499h2v1h-2zM62 498h1v1h-1zM63 497h1v1h-1zM64 496h2v1h-2zM66 495h1v1h-1zM67 494h1v1h-1zM68 493h1v1h-1zM69 492h1v1h-1zM70 491h2v1h-2zM72 490h1v1h-1zM73 489h1v1h-1zM74 488h1v1h-1zM75 487h1v1h-1zM76 486h2v1h-2zM78 485h1v1h-1zM79 484h1v1h-1zM80 483h1v1h-1zM81 482h1v1h-1zM82 481h1v1h-1zM83 480h1v1h-1zM84 479h1v1h-1zM85 478h1v1h-1zM86 476h1v2h-1zM87 475h1v1h-1zM88 474h1v1h-1zM89 473h1v1h-1zM90 472h1v1h-1zM91 471h1v1h-1zM92 470h1v1h-1zM93 469h1v1h-1zM94 468h1v1h-1zM95 467h1v1h-1zM96 465h1v2h-1zM97 464h1v1h-1zM98 463h1v1h-1zM99 462h1v1h-1zM100 461h1v1h-1zM101 460h1v1h-1zM102 459h1v1h-1zM103 457h1v2h-1zM104 456h1v1h-1zM105 455h1v1h-1zM106 454h1v1h-1zM107 453h1v1h-1zM108 452h1v1h-1zM109 451h1v1h-1zM110 450h1v1h-1zM111 449h1v1h-1zM112 448h2v1h-2zM114 447h1v1h-1zM115 446h1v1h-1zM116 445h1v1h-1zM117 444h1v1h-1zM118 443h1v1h-1zM119 442h2v1h-2zM121 441h2v1h-2zM123 440h2v1h-2zM125 439h1v1h-1zM126 438h2v1h-2zM128 437h2v1h-2zM130 436h2v1h-2zM132 435h1v1h-1zM133 434h1v1h-1zM134 433h2v1h-2zM136 432h1v1h-1zM137 431h1v1h-1zM138 430h1v1h-1zM139 429h1v1h-1zM140 428h2v1h-2zM142 427h1v1h-1zM143 426h1v1h-1zM144 425h1v1h-1zM145 423h1v2h-1zM146 422h1v1h-1zM147 421h1v1h-1zM148 420h1v1h-1zM149 419h1v1h-1zM150 417h1v2h-1zM151 416h1v1h-1zM152 415h1v1h-1zM153 414h1v1h-1zM154 412h1v2h-1zM155 411h1v1h-1zM156 410h1v1h-1zM157 408h1v2h-1zM158 407h1v1h-1zM159 406h1v1h-1zM160 404h1v2h-1zM161 403h1v1h-1zM162 402h1v1h-1zM163 401h1v1h-1zM164 399h1v2h-1zM165 398h1v1h-1zM166 397h1v1h-1zM167 395h1v2h-1zM168 394h1v1h-1zM169 393h1v1h-1zM170 391h1v2h-1zM171 390h1v1h-1zM172 388h1v2h-1zM173 387h1v1h-1zM174 385h1v2h-1zM175 384h1v1h-1zM176 382h1v2h-1zM177 380h1v2h-1zM178 379h1v1h-1zM179 377h1v2h-1zM180 376h1v1h-1zM181 374h1v2h-1zM182 373h1v1h-1zM183 371h1v2h-1zM184 370h1v1h-1zM185 368h1v2h-1zM186 367h1v1h-1zM187 365h1v2h-1zM188 363h1v2h-1zM189 361h1v2h-1zM190 359h1v2h-1zM191 357h1v2h-1zM192 356h1v1h-1zM193 354h1v2h-1zM194 352h1v2h-1zM195 350h1v2h-1zM196 348h1v2h-1zM197 347h1v1h-1zM198 345h1v2h-1zM199 343h1v2h-1zM200 341h1v2h-1zM201 339h1v2h-1zM202 337h1v2h-1zM203 336h1v1h-1zM204 334h1v2h-1zM205 332h1v2h-1zM206 331h1v1h-1zM207 329h1v2h-1zM208 328h1v1h-1zM209 326h1v2h-1zM210 324h1v2h-1zM211 323h1v1h-1zM212 321h1v2h-1zM213 320h1v1h-1zM214 318h1v2h-1zM215 316h1v2h-1zM216 314h1v2h-1zM217 312h1v2h-1zM218 310h1v2h-1zM219 309h1v1h-1zM220 307h1v2h-1zM221 305h1v2h-1zM222 303h1v2h-1zM223 301h1v2h-1zM224 299h1v2h-1zM225 298h1v1h-1zM226 296h1v2h-1zM227 295h1v1h-1zM228 294h1v1h-1zM229 292h1v2h-1zM230 291h1v1h-1zM231 289h1v2h-1zM232 288h1v1h-1zM233 286h1v2h-1zM234 285h1v1h-1zM235 283h1v2h-1zM236 282h1v1h-1zM237 280h1v2h-1zM238 279h1v1h-1zM239 278h1v1h-1zM240 276h1v2h-1zM241 275h1v1h-1zM242 274h1v1h-1zM243 273h1v1h-1zM244 271h1v2h-1zM245 270h1v1h-1zM246 269h1v1h-1zM247 267h1v2h-1zM248 266h1v1h-1zM249 264h1v2h-1zM250 263h1v1h-1zM251 262h1v1h-1zM252 260h1v2h-1zM253 259h2v1h-2zM255 258h2v1h-2zM257 257h2v1h-2zM259 256h2v1h-2zM261 255h1v1h-1zM262 254h1v1h-1zM263 253h1v1h-1zM264 252h2v1h-2zM266 251h1v1h-1zM267 250h1v1h-1zM268 249h1v1h-1zM269 248h1v1h-1zM270 247h1v1h-1zM271 246h2v1h-2zM273 245h1v1h-1zM274 244h1v1h-1zM275 243h2v1h-2zM277 242h1v1h-1zM278 241h1v1h-1zM279 239h1v2h-1zM280 238h1v1h-1zM281 237h1v1h-1zM282 235h1v2h-1zM283 234h1v1h-1zM284 233h1v1h-1zM285 232h1v1h-1zM286 231h1v1h-1zM287 230h2v1h-2zM289 229h1v1h-1zM290 228h1v1h-1zM291 227h1v1h-1zM292 226h1v1h-1zM293 225h2v1h-2zM295 224h2v1h-2zM297 223h1v1h-1zM298 222h2v1h-2zM300 221h2v1h-2zM302 220h2v1h-2zM304 219h1v1h-1zM305 218h2v1h-2zM307 217h2v1h-2zM309 216h7v1h-7zM316 217h2v1h-2zM318 218h2v1h-2zM320 219h3v1h-3zM323 220h2v1h-2zM325 221h2v1h-2zM327 222h2v1h-2zM329 223h1v1h-1zM330 224h2v1h-2zM332 225h2v1h-2zM334 226h2v1h-2zM336 227h1v1h-1zM337 228h2v1h-2zM339 229h2v1h-2zM341 230h1v1h-1zM342 231h1v1h-1zM343 232h2v1h-2zM345 233h1v1h-1zM346 234h1v1h-1zM347 235h2v1h-2zM349 236h1v1h-1zM350 237h1v1h-1zM351 238h1v1h-1zM352 239h1v1h-1zM353 240h1v1h-1zM354 241h1v2h-1zM355 243h1v1h-1zM356 244h1v1h-1zM357 245h1v1h-1zM358 246h1v1h-1zM359 247h1v1h-1zM360 248h1v1h-1zM361 249h1v1h-1zM362 250h1v2h-1zM363 252h1v1h-1zM364 253h1v1h-1zM365 254h1v1h-1zM366 255h1v1h-1zM367 256h1v1h-1zM368 257h1v2h-1zM369 259h1v1h-1zM370 260h1v1h-1zM371 261h1v1h-1zM372 262h1v1h-1zM373 263h1v1h-1zM374 264h1v1h-1zM375 265h1v1h-1zM376 266h2v1h-2zM378 267h1v1h-1zM379 268h1v1h-1zM380 269h1v1h-1zM381 270h1v1h-1zM382 271h2v1h-2zM384 272h2v1h-2zM386 273h3v1h-3zM389 274h2v1h-2zM391 275h3v1h-3zM394 276h3v1h-3zM397 277h2v1h-2zM399 278h2v1h-2zM401 279h2v1h-2zM403 280h2v1h-2zM405 281h1v1h-1zM406 282h2v1h-2zM408 283h2v1h-2zM410 284h1v1h-1zM411 285h2v1h-2zM413 286h2v1h-2zM415 287h1v1h-1zM416 288h2v1h-2zM418 289h2v1h-2zM420 290h1v1h-1zM421 291h1v1h-1zM422 292h1v1h-1zM423 293h1v1h-1zM424 294h1v1h-1zM425 295h1v1h-1zM426 296h1v2h-1zM427 298h1v1h-1zM428 299h1v1h-1zM429 300h1v1h-1zM430 301h1v1h-1zM431 302h1v1h-1zM432 303h1v1h-1zM433 304h1v1h-1zM434 305h2v1h-2zM436 306h1v1h-1zM437 307h1v1h-1zM438 308h1v1h-1zM439 309h1v1h-1zM440 310h1v1h-1zM441 311h1v1h-1zM442 312h2v1h-2zM444 313h1v1h-1zM445 314h1v1h-1zM446 315h1v1h-1zM447 316h2v1h-2zM449 317h1v1h-1zM450 318h1v1h-1zM451 319h1v1h-1zM452 320h1v1h-1zM453 321h1v1h-1zM454 322h1v1h-1zM455 323h2v1h-2zM457 324h1v1h-1zM458 325h1v1h-1zM459 326h1v1h-1zM460 327h1v1h-1zM461 328h1v1h-1zM462 329h2v1h-2zM464 330h2v1h-2zM466 331h2v1h-2zM468 332h2v1h-2zM470 333h2v1h-2zM472 334h2v1h-2zM474 335h2v1h-2zM476 336h2v1h-2zM478 337h3v1h-3zM481 336h4v1h-4zM485 335h3v1h-3zM488 334h2v1h-2zM490 333h2v1h-2zM492 332h3v1h-3zM495 331h3v1h-3zM498 330h2v1h-2zM500 329h3v1h-3zM503 328h2v1h-2zM505 327h2v1h-2zM507 326h2v1h-2zM509 325h2v1h-2zM511 324h2v1h-2zM513 323h1v1h-1zM514 322h1v1h-1zM515 321h2v1h-2zM517 320h1v1h-1zM518 319h1v1h-1zM519 318h1v1h-1zM520 317h1v1h-1zM521 316h1v1h-1zM522 314h1v2h-1zM523 313h1v1h-1zM524 312h1v1h-1zM525 311h1v1h-1zM526 310h1v1h-1zM527 309h1v1h-1zM528 308h1v1h-1zM529 307h1v1h-1zM530 306h1v1h-1zM531 304h1v2h-1zM532 303h1v1h-1zM533 302h1v1h-1zM534 301h1v1h-1zM535 300h1v1h-1zM536 299h1v1h-1zM537 298h1v1h-1zM538 296h1v2h-1zM539 295h1v1h-1zM540 294h1v1h-1zM541 292h1v2h-1zM542 291h1v1h-1zM543 290h1v1h-1zM544 289h1v1h-1zM545 288h1v1h-1zM546 287h2v1h-2zM548 286h1v1h-1zM549 285h1v1h-1zM550 284h1v1h-1zM551 283h2v1h-2zM553 282h2v1h-2zM555 281h2v1h-2zM557 280h2v1h-2zM559 279h2v1h-2zM561 278h1v1h-1zM562 277h1v1h-1zM563 276h1v1h-1zM564 275h1v1h-1zM565 274h2v1h-2zM567 273h1v1h-1zM568 272h1v1h-1zM569 271h1v1h-1zM570 270h1v1h-1zM571 269h2v1h-2zM573 268h2v1h-2zM575 267h1v1h-1zM576 266h2v1h-2zM578 265h1v1h-1zM579 264h2v1h-2zM581 263h2v1h-2zM583 262h1v1h-1zM584 261h2v1h-2zM586 260h2v1h-2zM588 259h1v1h-1zM589 258h1v1h-1zM590 257h1v1h-1zM591 255h1v2h-1zM592 254h1v1h-1zM593 253h1v1h-1zM594 252h1v1h-1zM595 251h1v1h-1zM596 250h1v1h-1zM597 248h1v2h-1zM598 247h1v1h-1zM599 246h1v1h-1zM600 245h1v1h-1zM601 244h1v1h-1zM602 243h2v1h-2zM604 242h1v1h-1zM605 241h1v1h-1zM606 240h1v1h-1zM607 239h1v1h-1zM608 238h1v1h-1zM609 237h2v1h-2zM611 236h1v1h-1zM612 235h1v1h-1zM613 234h2v1h-2zM615 233h2v1h-2zM617 232h2v1h-2zM619 231h2v1h-2zM621 230h1v1h-1zM622 229h2v1h-2zM624 228h1v1h-1zM625 227h2v1h-2zM627 226h1v1h-1zM628 225h2v1h-2zM630 224h1v1h-1zM631 223h2v1h-2zM633 222h2v1h-2zM635 221h1v1h-1zM636 220h2v1h-2zM638 219h2v1h-2zM640 218h7v1h-7zM647 219h7v1h-7zM654 220h3v1h-3zM657 221h3v1h-3zM660 222h17v1h-17zM677 223h5v1h-5zM682 224h4v1h-4zM686 225h2v1h-2zM688 226h2v1h-2zM690 227h2v1h-2zM692 228h3v1h-3zM695 229h3v1h-3zM698 230h2v1h-2zM700 231h2v1h-2zM702 232h2v1h-2zM704 233h2v1h-2zM706 234h1v1h-1zM707 235h2v1h-2zM709 236h1v1h-1zM710 237h2v1h-2zM712 238h2v1h-2zM714 239h2v1h-2zM716 240h2v1h-2zM718 241h3v1h-3zM721 242h2v1h-2zM723 243h3v1h-3zM726 244h3v1h-3zM729 245h2v1h-2zM731 246h3v1h-3zM734 247h2v1h-2zM736 248h2v1h-2zM738 249h2v1h-2zM740 250h18v1h-18zM758 251h4v1h-4zM762 252h4v1h-4zM766 253h2v1h-2zM768 254h2v1h-2zM770 255h2v1h-2zM772 256h1v1h-1zM773 257h2v1h-2zM775 258h1v1h-1zM776 259h1v1h-1zM777 260h2v1h-2zM779 261h2v1h-2zM781 262h2v1h-2zM783 263h2v1h-2zM785 264h2v1h-2zM787 265h1v1h-1zM788 266h2v1h-2zM790 267h2v1h-2zM792 268h1v1h-1zM793 269h2v1h-2zM795 270h1v1h-1zM796 271h1v1h-1zM797 272h1v1h-1zM798 273h1v1h-1zM799 274h1v1h-1zM800 275h1v1h-1zM801 276h1v1h-1zM802 277h1v1h-1zM803 278h2v1h-2zM805 279h1v1h-1zM806 280h1v1h-1zM807 281h1v1h-1zM808 282h2v1h-2zM810 283h2v1h-2zM812 284h2v1h-2zM814 285h3v1h-3zM817 286h12v1h-12zM829 285h6v1h-6zM835 286h4v1h-4zM839 287h4v1h-4zM843 288h5v1h-5zM848 289h35v1h-35zM883 290h9v1h-9zM892 291h7v1h-7zM899 292h2v1h-2zM901 293h2v1h-2zM903 294h2v1h-2zM905 295h3v1h-3zM908 296h2v1h-2zM910 297h4v1h-4zM914 298h4v1h-4zM918 299h5v1h-5zM923 300h4v1h-4zM927 301h5v1h-5zM932 302h9v1h-9zM941 301h2v1h-2zM943 300h2v1h-2zM945 299h3v1h-3zM948 298h3v1h-3zM951 297h2v1h-2zM953 296h6v1h-6zM959 295h7v1h-7zM966 294h5v1h-5zM971 293h3v1h-3zM974 292h4v1h-4zM978 291h3v1h-3zM981 290h8v1h-8zM989 291h4v1h-4zM993 292h4v1h-4zM997 293h5v1h-5zM1002 294h7v1h-7zM1009 293h5v1h-5zM1014 292h3v1h-3zM1017 291h3v1h-3zM1020 290h7v1h-7zM1027 289h6v1h-6zM1033 288h4v1h-4zM1037 287h3v1h-3zM1040 286h3v1h-3zM1043 285h4v1h-4zM1047 284h3v1h-3zM1050 283h3v1h-3zM1053 282h3v1h-3zM1056 281h2v1h-2zM1058 280h4v1h-4zM1062 279h5v1h-5zM1067 278h5v1h-5zM1072 277h6v1h-6zM1078 276h5v1h-5zM1083 275h16v1h-16zM1099 276h9v1h-9zM1108 277h4v1h-4zM1112 278h4v1h-4zM1116 279h15v1h-15zM1131 278h4v1h-4zM1135 277h3v1h-3zM1138 276h2v1h-2zM1140 275h2v1h-2zM1142 274h4v1h-4zM1146 273h4v1h-4zM1150 272h3v1h-3zM1153 271h3v1h-3zM1156 270h2v1h-2zM1158 269h3v1h-3zM1161 268h4v1h-4zM1165 267h6v1h-6zM1171 266h7v1h-7zM1178 267h5v1h-5zM1183 268h4v1h-4zM1187 269h3v1h-3zM1190 270h4v1h-4zM1194 271h7v1h-7zM1201 272h27v1h-27zM1228 273h4v1h-4zM1232 272h5v1h-5zM1237 271h4v1h-4zM1241 270h4v1h-4zM1245 269h3v1h-3zM1248 268h2v1h-2zM1250 267h2v1h-2zM1252 266h2v1h-2zM1254 265h2v1h-2zM1256 264h2v1h-2zM1258 263h1v1h-1zM1259 262h2v1h-2zM1261 261h2v1h-2zM1263 260h2v1h-2zM1265 259h2v1h-2zM1267 258h1v1h-1zM1268 257h1v1h-1zM1269 256h1v1h-1zM1270 255h1v1h-1zM1271 254h2v1h-2zM1273 253h1v1h-1zM1274 252h1v1h-1zM1275 251h1v1h-1zM1276 250h1v1h-1zM1277 249h1v1h-1zM1278 248h1v1h-1zM1279 247h2v1h-2zM1281 246h1v1h-1zM1282 245h1v1h-1zM1283 244h1v1h-1zM1284 243h1v1h-1zM1285 242h1v1h-1zM1286 241h1v1h-1zM1287 240h2v1h-2zM1289 239h1v1h-1zM1290 238h1v1h-1zM1291 237h1v1h-1zM1292 236h1v1h-1zM1293 235h1v1h-1zM1294 234h1v1h-1zM1295 233h2v1h-2zM1297 232h1v1h-1zM1298 231h1v1h-1zM1299 230h1v1h-1zM1300 229h1v1h-1zM1301 228h1v1h-1zM1302 227h1v1h-1zM1303 226h1v1h-1zM1304 225h2v1h-2zM1306 224h1v1h-1zM1307 223h1v1h-1zM1308 222h1v1h-1zM1309 221h1v1h-1zM1310 220h1v1h-1zM1311 219h1v1h-1zM1312 218h1v1h-1zM1313 216h1v2h-1zM1314 215h1v1h-1zM1315 214h1v1h-1zM1316 213h1v1h-1zM1317 212h1v1h-1zM1318 210h1v2h-1zM1319 209h1v1h-1zM1320 208h1v1h-1zM1321 207h1v1h-1zM1322 205h1v2h-1zM1323 204h1v1h-1zM1324 203h1v1h-1zM1325 202h1v1h-1zM1326 201h1v1h-1zM1327 199h1v2h-1zM1328 198h1v1h-1zM1329 197h1v1h-1zM1330 196h1v1h-1zM1331 195h1v1h-1zM1332 193h1v2h-1zM1333 192h1v1h-1zM1334 191h1v1h-1zM1335 190h1v1h-1zM1336 188h1v2h-1zM1337 187h1v1h-1zM1338 186h1v1h-1zM1339 185h1v1h-1zM1340 184h1v1h-1zM1341 182h1v2h-1zM1342 181h1v1h-1zM1343 180h1v1h-1zM1344 179h1v1h-1zM1345 178h1v1h-1zM1346 177h2v1h-2zM1348 176h1v1h-1zM1349 175h2v1h-2zM1351 174h1v1h-1zM1352 173h1v1h-1zM1353 172h2v1h-2zM1355 171h1v1h-1zM1356 170h2v1h-2zM1358 169h1v1h-1zM1359 168h2v1h-2zM1361 167h2v1h-2zM1363 166h1v1h-1zM1364 165h2v1h-2zM1366 164h2v1h-2zM1368 163h2v1h-2zM1370 162h2v1h-2zM1372 161h2v1h-2zM1374 160h2v1h-2zM1376 159h2v1h-2zM1378 158h3v1h-3zM1381 157h3v1h-3zM1384 156h3v1h-3zM1387 155h2v1h-2zM1389 154h2v1h-2zM1391 153h1v1h-1zM1392 152h2v1h-2zM1394 151h1v1h-1zM1395 150h2v1h-2zM1397 149h1v1h-1zM1398 148h2v1h-2zM1400 147h2v1h-2zM1402 146h1v1h-1zM1403 145h2v1h-2zM1405 144h2v1h-2zM1407 143h1v1h-1zM1408 142h2v1h-2zM1410 141h2v1h-2zM1412 140h2v1h-2zM1414 139h2v1h-2zM1416 138h3v1h-3zM1419 137h4v1h-4zM1423 136h4v1h-4zM1427 135h3v1h-3zM1430 134h2v1h-2zM1432 133h3v1h-3zM1435 132h3v1h-3zM1438 131h2v1h-2zM1440 130h3v1h-3zM1443 129h3v1h-3zM1446 128h3v1h-3zM1449 127h3v1h-3zM1452 126h3v1h-3zM1455 125h4v1h-4zM1459 124h3v1h-3zM1462 123h11v1h-11zM1473 124h4v1h-4zM1477 125h3v1h-3zM1480 126h2v1h-2zM1482 127h2v1h-2zM1484 128h2v1h-2zM1486 129h1v1h-1zM1487 130h2v1h-2zM1489 131h1v1h-1zM1490 132h1v1h-1zM1491 133h2v1h-2zM1493 134h1v1h-1zM1494 135h2v1h-2zM1496 136h1v1h-1zM1497 137h1v1h-1zM1498 138h1v1h-1zM1499 139h1v1h-1zM1500 140h1v1h-1zM1501 141h1v1h-1zM1502 142h1v1h-1zM1503 143h2v1h-2zM1505 144h1v1h-1zM1506 145h1v1h-1zM1507 146h2v1h-2zM1509 147h1v1h-1zM1510 148h3v1h-3zM1513 149h27v1h-27zM1540 150h16v1h-16zM1556 151h4v1h-4zM1560 152h4v1h-4zM1564 153h4v1h-4zM1568 154h3v1h-3zM1571 155h3v1h-3zM1574 156h2v1h-2zM1576 157h3v1h-3zM1579 158h2v1h-2zM1581 159h2v1h-2zM1583 160h3v1h-3zM1586 161h3v1h-3zM1589 162h2v1h-2zM1591 163h3v1h-3zM1594 164h2v1h-2zM1596 165h2v1h-2zM1598 166h2v1h-2zM1600 167h1v1h-1zM1601 168h2v1h-2zM1603 169h2v1h-2zM1605 170h2v1h-2zM1607 171h3v1h-3zM1610 172h4v1h-4zM1614 173h3v1h-3zM1617 174h2v1h-2zM1619 175h2v1h-2zM1621 176h2v1h-2zM1623 177h2v1h-2zM1625 178h3v1h-3zM1628 179h2v1h-2zM1630 180h2v1h-2zM1632 181h2v1h-2zM1634 182h1v1h-1zM1635 183h1v1h-1zM1636 184h2v1h-2zM1638 185h2v1h-2zM1640 186h2v1h-2zM1642 187h2v1h-2zM1644 188h2v1h-2zM1646 189h2v1h-2zM1648 190h2v1h-2zM1650 191h2v1h-2zM1652 192h2v1h-2zM1654 193h3v1h-3zM1657 194h4v1h-4zM1661 195h1v1h-1z" fill="#FFA500"/>
<path d="M172 518h1v1h-1zM173 517h1v1h-1zM174 516h1v1h-1zM175 515h1v1h-1zM176 514h1v1h-1zM177 513h1v1h-1zM178 512h2v1h-2zM180 511h1v1h-1zM181 510h1v1h-1zM182 509h1v1h-1zM183 508h1v1h-1zM184 507h1v1h-1zM185 506h1v1h-1zM186 505h1v1h-1zM187 504h1v1h-1zM188 503h1v1h-1zM189 502h1v1h-1zM190 501h1v1h-1zM191 500h1v1h-1zM192 499h1v1h-1zM193 498h1v1h-1zM194 497h1v1h-1zM195 496h1v1h-1zM196 495h1v1h-1zM197 494h1v1h-1zM198 493h1v1h-1zM199 492h1v1h-1zM200 491h1v1h-1zM201 490h1v1h-1zM202 488h1v2h-1zM203 487h1v1h-1zM204 486h1v1h-1zM205 485h1v1h-1zM206 484h1v1h-1zM207 482h1v2h-1zM208 481h1v1h-1zM209 480h1v1h-1zM210 479h1v1h-1zM211 477h1v2h-1zM212 476h1v1h-1zM213 475h1v1h-1zM214 473h1v2h-1zM215 472h1v1h-1zM216 471h1v1h-1zM217 469h1v2h-1zM218 468h1v1h-1zM219 467h1v1h-1zM220 465h1v2h-1zM221 464h1v1h-1zM222 463h1v1h-1zM223 462h1v1h-1zM224 461h1v1h-1zM225 460h1v1h-1zM226 459h1v1h-1zM227 458h1v1h-1zM228 457h1v1h-1zM229 456h1v1h-1zM230 455h1v1h-1zM231 453h1v2h-1zM232 452h1v1h-1zM233 451h1v1h-1zM234 450h1v1h-1zM235 449h1v1h-1zM236 448h1v1h-1zM237 447h1v1h-1zM238 446h1v1h-1zM239 445h1v1h-1zM240 444h1v1h-1zM241 443h1v1h-1zM242 442h1v1h-1zM243 441h1v1h-1zM244 440h1v1h-1zM245 439h1v1h-1zM246 438h1v1h-1zM247 437h1v1h-1zM248 436h1v1h-1zM249 435h1v1h-1zM250 434h1v1h-1zM251 433h1v1h-1zM252 432h1v1h-1zM253 431h1v1h-1zM254 430h1v1h-1zM255 429h1v1h-1zM256 428h1v1h-1zM257 427h1v1h-1zM258 426h1v1h-1zM259 425h1v1h-1zM260 424h1v1h-1zM261 423h1v1h-1zM262 422h1v1h-1zM263 421h1v1h-1zM264 420h1v1h-1zM265 419h1v1h-1zM266 418h1v1h-1zM267 417h1v1h-1zM268 416h1v1h-1zM269 414h1v2h-1zM270 413h1v1h-1zM271 412h1v1h-1zM272 411h1v1h-1zM273 410h1v1h-1zM274 409h1v1h-1zM275 408h1v1h-1zM276 407h1v1h-1zM277 406h1v1h-1zM278 404h1v2h-1zM279 403h1v1h-1zM280 402h1v1h-1zM281 401h1v1h-1zM282 400h1v1h-1zM283 399h1v1h-1zM284 398h1v1h-1zM285 397h1v1h-1zM286 396h1v1h-1zM287 395h1v1h-1zM288 394h1v1h-1zM289 393h1v1h-1zM290 392h1v1h-1zM291 391h1v1h-1zM292 390h1v1h-1zM293 389h1v1h-1zM294 388h1v1h-1zM295 387h1v1h-1zM296 386h1v1h-1zM297 385h1v1h-1zM298 384h1v1h-1zM299 383h1v1h-1zM300 382h1v1h-1zM301 381h1v1h-1zM302 380h1v1h-1zM303 379h2v1h-2zM305 378h1v1h-1zM306 377h1v1h-1zM307 376h1v1h-1zM308 375h1v1h-1zM309 374h1v1h-1zM310 373h1v1h-1zM311 372h2v1h-2zM313 371h1v1h-1zM314 370h1v1h-1zM315 369h1v1h-1zM316 368h1v1h-1zM317 367h2v1h-2zM319 366h1v1h-1zM320 365h2v1h-2zM322 364h1v1h-1zM323 363h2v1h-2zM325 362h1v1h-1zM326 361h2v1h-2zM328 360h2v1h-2zM330 359h1v1h-1zM331 358h2v1h-2zM333 357h1v1h-1zM334 356h2v1h-2zM336 355h1v1h-1zM337 354h2v1h-2zM339 353h1v1h-1zM340 352h2v1h-2zM342 351h2v1h-2zM344 350h2v1h-2zM346 349h2v1h-2zM348 348h3v1h-3zM351 347h2v1h-2zM353 346h2v1h-2zM355 345h2v1h-2zM357 344h3v1h-3zM360 343h2v1h-2zM362 342h2v1h-2zM364 341h3v1h-3zM367 340h2v1h-2zM369 339h2v1h-2zM371 338h2v1h-2zM373 337h3v1h-3zM376 336h2v1h-2zM378 335h2v1h-2zM380 334h3v1h-3zM383 333h3v1h-3zM386 332h4v1h-4zM390 331h3v1h-3zM393 330h3v1h-3zM396 329h3v1h-3zM399 328h4v1h-4zM403 327h3v1h-3zM406 326h3v1h-3zM409 325h3v1h-3zM412 324h4v1h-4zM416 323h3v1h-3zM419 322h4v1h-4zM423 321h4v1h-4zM427 320h4v1h-4zM431 319h4v1h-4zM435 318h4v1h-4zM439 317h4v1h-4zM443 316h4v1h-4zM447 315h4v1h-4zM451 314h4v1h-4zM455 313h4v1h-4zM459 312h4v1h-4zM463 311h4v1h-4zM467 310h2v1h-2zM469 309h3v1h-3zM472 308h3v1h-3zM475 307h2v1h-2zM477 306h3v1h-3zM480 305h2v1h-2zM482 304h2v1h-2zM484 303h2v1h-2zM486 302h2v1h-2zM488 301h2v1h-2zM490 300h1v1h-1zM491 299h2v1h-2zM493 298h2v1h-2zM495 297h1v1h-1zM496 296h2v1h-2zM498 295h1v1h-1zM499 294h2v1h-2zM501 293h2v1h-2zM503 292h1v1h-1zM504 291h2v1h-2zM506 290h2v1h-2zM508 289h1v1h-1zM509 288h2v1h-2zM511 287h2v1h-2zM513 286h2v1h-2zM515 285h2v1h-2zM517 284h2v1h-2zM519 283h2v1h-2zM521 282h2v1h-2zM523 281h2v1h-2zM525 280h2v1h-2zM527 279h2v1h-2zM529 278h2v1h-2zM531 277h2v1h-2zM533 276h2v1h-2zM535 275h3v1h-3zM538 274h2v1h-2zM540 273h3v1h-3zM543 272h2v1h-2zM545 271h4v1h-4zM549 270h4v1h-4zM553 269h4v1h-4zM557 268h3v1h-3zM560 267h2v1h-2zM562 266h3v1h-3zM565 265h2v1h-2zM567 264h4v1h-4zM571 263h4v1h-4zM575 262h4v1h-4zM579 261h6v1h-6zM585 260h11v1h-11zM596 259h25v1h-25zM621 260h5v1h-5zM626 261h9v1h-9zM635 262h8v1h-8zM643 263h5v1h-5zM648 264h7v1h-7zM655 265h11v1h-11zM666 266h9v1h-9zM675 267h6v1h-6zM681 268h8v1h-8zM689 269h11v1h-11zM700 270h12v1h-12zM712 271h7v1h-7zM719 272h6v1h-6zM725 273h5v1h-5zM730 274h25v1h-25zM755 273h6v1h-6zM761 272h18v1h-18zM779 271h50v1h-50zM829 270h14v1h-14zM843 269h5v1h-5zM848 268h14v1h-14zM862 267h4v1h-4zM866 266h3v1h-3zM869 265h3v1h-3zM872 264h3v1h-3zM875 263h6v1h-6zM881 262h8v1h-8zM889 261h6v1h-6zM895 260h15v1h-15zM910 259h24v1h-24zM934 260h4v1h-4zM938 261h18v1h-18zM956 262h3v1h-3zM959 263h3v1h-3zM962 264h3v1h-3zM965 265h2v1h-2zM967 266h3v1h-3zM970 267h3v1h-3zM973 268h4v1h-4zM977 269h3v1h-3zM980 270h3v1h-3zM983 271h3v1h-3zM986 272h4v1h-4zM990 273h3v1h-3zM993 274h3v1h-3zM996 275h4v1h-4zM1000 276h3v1h-3zM1003 277h4v1h-4zM1007 278h4v1h-4zM1011 279h17v1h-17zM1028 280h37v1h-37zM1065 281h10v1h-10zM1075 282h17v1h-17zM1092 281h16v1h-16zM1108 282h5v1h-5zM1113 283h19v1h-19zM1132 284h40v1h-40zM1172 285h6v1h-6zM1178 286h6v1h-6zM1184 287h20v1h-20zM1204 288h4v1h-4zM1208 287h3v1h-3zM1211 286h3v1h-3zM1214 285h4v1h-4zM1218 284h4v1h-4zM1222 283h4v1h-4zM1226 282h5v1h-5zM1231 281h4v1h-4zM1235 280h3v1h-3zM1238 279h2v1h-2zM1240 278h3v1h-3zM1243 277h3v1h-3zM1246 276h3v1h-3zM1249 275h3v1h-3zM1252 274h3v1h-3zM1255 273h3v1h-3zM1258 272h3v1h-3zM1261 271h2v1h-2zM1263 270h3v1h-3zM1266 269h4v1h-4zM1270 268h4v1h-4zM1274 267h4v1h-4zM1278 266h4v1h-4zM1282 265h5v1h-5zM1287 264h4v1h-4zM1291 263h4v1h-4zM1295 262h4v1h-4zM1299 261h3v1h-3zM1302 260h2v1h-2zM1304 259h2v1h-2zM1306 258h2v1h-2zM1308 257h3v1h-3zM1311 256h2v1h-2zM1313 255h2v1h-2zM1315 254h3v1h-3zM1318 253h2v1h-2zM1320 252h2v1h-2zM1322 251h2v1h-2zM1324 250h2v1h-2zM1326 249h2v1h-2zM1328 248h2v1h-2zM1330 247h2v1h-2zM1332 246h2v1h-2zM1334 245h2v1h-2zM1336 244h3v1h-3zM1339 243h2v1h-2zM1341 242h3v1h-3zM1344 241h2v1h-2zM1346 240h4v1h-4zM1350 239h4v1h-4zM1354 238h4v1h-4zM1358 237h4v1h-4zM1362 236h3v1h-3zM1365 235h4v1h-4zM1369 234h3v1h-3zM1372 233h3v1h-3zM1375 232h4v1h-4zM1379 231h4v1h-4zM1383 230h4v1h-4zM1387 229h4v1h-4zM1391 228h4v1h-4zM1395 227h4v1h-4zM1399 226h2v1h-2zM1401 225h2v1h-2zM1403 224h2v1h-2zM1405 223h2v1h-2zM1407 222h2v1h-2zM1409 221h2v1h-2zM1411 220h2v1h-2zM1413 219h1v1h-1zM1414 218h2v1h-2zM1416 217h2v1h-2zM1418 216h2v1h-2zM1420 215h2v1h-2zM1422 214h2v1h-2zM1424 213h2v1h-2zM1426 212h2v1h-2zM1428 211h3v1h-3zM1431 210h2v1h-2zM1433 209h2v1h-2zM1435 208h3v1h-3zM1438 207h2v1h-2zM1440 206h2v1h-2zM1442 205h2v1h-2zM1444 204h2v1h-2zM1446 203h3v1h-3zM1449 202h3v1h-3zM1452 201h3v1h-3zM1455 200h3v1h-3zM1458 199h4v1h-4zM1462 198h5v1h-5zM1467 197h5v1h-5zM1472 196h7v1h-7zM1479 195h8v1h-8zM1487 194h13v1h-13zM1500 193h5v1h-5zM1505 192h6v1h-6zM1511 191h6v1h-6zM1517 190h5v1h-5zM1522 189h3v1h-3zM1525 188h4v1h-4zM1529 187h3v1h-3zM1532 186h5v1h-5zM1537 185h6v1h-6zM1543 184h6v1h-6zM1549 183h4v1h-4zM1553 182h2v1h-2zM1555 181h3v1h-3zM1558 180h2v1h-2zM1560 179h3v1h-3zM1563 178h4v1h-4zM1567 177h4v1h-4zM1571 176h4v1h-4zM1575 175h5v1h-5zM1580 174h5v1h-5zM1585 173h5v1h-5zM1590 172h5v1h-5zM1595 171h5v1h-5zM1600 170h5v1h-5zM1605 169h6v1h-6zM1611 168h5v1h-5zM1616 167h5v1h-5zM1621 166h4v1h-4zM1625 165h2v1h-2zM1627 164h33v1h-33zM1660 165h2v1h-2z" fill="#FF00FF"/>
<path d="M808 518h2v1h-2zM810 517h2v1h-2zM812 516h2v1h-2zM814 515h2v1h-2zM816 514h2v1h-2zM818 513h2v1h-2zM820 512h2v1h-2zM822 511h2v1h-2zM824 510h2v1h-2zM826 509h2v1h-2zM828 508h2v1h-2zM830 507h2v1h-2zM832 506h2v1h-2zM834 505h2v1h-2zM836 504h2v1h-2zM838 503h2v1h-2zM840 502h2v1h-2zM842 501h3v1h-3zM845 500h2v1h-2zM847 499h2v1h-2zM849 498h2v1h-2zM851 497h2v1h-2zM853 496h2v1h-2zM855 495h2v1h-2zM857 494h3v1h-3zM860 493h2v1h-2zM862 492h2v1h-2zM864 491h2v1h-2zM866 490h2v1h-2zM868 489h2v1h-2zM870 488h3v1h-3zM873 487h3v1h-3zM876 486h3v1h-3zM879 485h2v1h-2zM881 484h3v1h-3zM884 483h3v1h-3zM887 482h3v1h-3zM890 481h3v1h-3zM893 480h2v1h-2zM895 479h3v1h-3zM898 478h3v1h-3zM901 477h2v1h-2zM903 476h3v1h-3zM906 475h2v1h-2zM908 474h3v1h-3zM911 473h2v1h-2zM913 472h3v1h-3zM916 471h2v1h-2zM918 470h3v1h-3zM921 469h2v1h-2zM923 468h3v1h-3zM926 467h2v1h-2zM928 466h2v1h-2zM930 465h2v1h-2zM932 464h2v1h-2zM934 463h2v1h-2zM936 462h2v1h-2zM938 461h2v1h-2zM940 460h2v1h-2zM942 459h2v1h-2zM944 458h2v1h-2zM946 457h2v1h-2zM948 456h2v1h-2zM950 455h2v1h-2zM952 454h1v1h-1zM953 453h2v1h-2zM955 452h2v1h-2zM957 451h2v1h-2zM959 450h2v1h-2zM961 449h2v1h-2zM963 448h2v1h-2zM965 447h2v1h-2zM967 446h2v1h-2zM969 445h2v1h-2zM971 444h2v1h-2zM973 443h2v1h-2zM975 442h2v1h-2zM977 441h2v1h-2zM979 440h2v1h-2zM981 439h2v1h-2zM983 438h2v1h-2zM985 437h2v1h-2zM987 436h2v1h-2zM989 435h2v1h-2zM991 434h2v1h-2zM993 433h2v1h-2zM995 432h2v1h-2zM997 431h2v1h-2zM999 430h2v1h-2zM1001 429h2v1h-2zM1003 428h2v1h-2zM1005 427h2v1h-2zM1007 426h2v1h-2zM1009 425h2v1h-2zM1011 424h2v1h-2zM1013 423h2v1h-2zM1015 422h2v1h-2zM1017 421h2v1h-2zM1019 420h2v1h-2zM1021 419h1v1h-1zM1022 418h2v1h-2zM1024 417h2v1h-2zM1026 416h2v1h-2zM1028 415h2v1h-2zM1030 414h2v1h-2zM1032 413h2v1h-2zM1034 412h2v1h-2zM1036 411h2v1h-2zM1038 410h2v1h-2zM1040 409h2v1h-2zM1042 408h2v1h-2zM1044 407h2v1h-2zM1046 406h2v1h-2zM1048 405h2v1h-2zM1050 404h2v1h-2zM1052 403h2v1h-2zM1054 402h2v1h-2zM1056 401h2v1h-2zM1058 400h2v1h-2zM1060 399h2v1h-2zM1062 398h2v1h-2zM1064 397h2v1h-2zM1066 396h2v1h-2zM1068 395h3v1h-3zM1071 394h2v1h-2zM1073 393h3v1h-3zM1076 392h3v1h-3zM1079 391h2v1h-2zM1081 390h3v1h-3zM1084 389h3v1h-3zM1087 388h2v1h-2zM1089 387h4v1h-4zM1093 386h4v1h-4zM1097 385h4v1h-4zM1101 384h4v1h-4zM1105 383h4v1h-4zM1109 382h4v1h-4zM1113 381h4v1h-4zM1117 380h4v1h-4zM1121 379h5v1h-5zM1126 378h6v1h-6zM1132 377h5v1h-5zM1137 376h5v1h-5zM1142 375h6v1h-6zM1148 374h5v1h-5zM1153 373h5v1h-5zM1158 372h5v1h-5zM1163 371h5v1h-5zM1168 370h5v1h-5zM1173 369h6v1h-6zM1179 368h5v1h-5zM1184 367h5v1h-5zM1189 366h5v1h-5zM1194 365h5v1h-5zM1199 364h4v1h-4zM1203 363h5v1h-5zM1208 362h4v1h-4zM1212 361h5v1h-5zM1217 360h5v1h-5zM1222 359h4v1h-4zM1226 358h5v1h-5zM1231 357h4v1h-4zM1235 356h5v1h-5zM1240 355h4v1h-4zM1244 354h4v1h-4zM1248 353h4v1h-4zM1252 352h4v1h-4zM1256 351h4v1h-4zM1260 350h4v1h-4zM1264 349h4v1h-4zM1268 348h4v1h-4zM1272 347h4v1h-4zM1276 346h3v1h-3zM1279 345h4v1h-4zM1283 344h4v1h-4zM1287 343h4v1h-4zM1291 342h3v1h-3zM1294 341h4v1h-4zM1298 340h4v1h-4zM1302 339h3v1h-3zM1305 338h4v1h-4zM1309 337h4v1h-4zM1313 336h4v1h-4zM1317 335h3v1h-3zM1320 334h3v1h-3zM1323 333h3v1h-3zM1326 332h4v1h-4zM1330 331h3v1h-3zM1333 330h3v1h-3zM1336 329h3v1h-3zM1339 328h3v1h-3zM1342 327h3v1h-3zM1345 326h3v1h-3zM1348 325h4v1h-4zM1352 324h3v1h-3zM1355 323h3v1h-3zM1358 322h3v1h-3zM1361 321h3v1h-3zM1364 320h3v1h-3zM1367 319h3v1h-3zM1370 318h2v1h-2zM1372 317h3v1h-3zM1375 316h3v1h-3zM1378 315h3v1h-3zM1381 314h3v1h-3zM1384 313h3v1h-3zM1387 312h3v1h-3zM1390 311h2v1h-2zM1392 310h3v1h-3zM1395 309h3v1h-3zM1398 308h3v1h-3zM1401 307h2v1h-2zM1403 306h3v1h-3zM1406 305h2v1h-2zM1408 304h3v1h-3zM1411 303h3v1h-3zM1414 302h2v1h-2zM1416 301h3v1h-3zM1419 300h2v1h-2zM1421 299h3v1h-3zM1424 298h2v1h-2zM1426 297h3v1h-3zM1429 296h3v1h-3zM1432 295h2v1h-2zM1434 294h3v1h-3zM1437 293h2v1h-2zM1439 292h3v1h-3zM1442 291h4v1h-4zM1446 290h4v1h-4zM1450 289h3v1h-3zM1453 288h4v1h-4zM1457 287h4v1h-4zM1461 286h3v1h-3zM1464 285h4v1h-4zM1468 284h3v1h-3zM1471 283h4v1h-4zM1475 282h4v1h-4zM1479 281h3v1h-3zM1482 280h4v1h-4zM1486 279h3v1h-3zM1489 278h4v1h-4zM1493 277h3v1h-3zM1496 276h4v1h-4zM1500 275h3v1h-3zM1503 274h4v1h-4zM1507 273h4v1h-4zM1511 272h5v1h-5zM1516 271h4v1h-4zM1520 270h5v1h-5zM1525 269h5v1h-5zM1530 268h4v1h-4zM1534 267h5v1h-5zM1539 266h6v1h-6zM1545 265h6v1h-6zM1551 264h5v1h-5zM1556 263h6v1h-6zM1562 262h6v1h-6zM1568 261h7v1h-7zM1575 260h7v1h-7zM1582 259h7v1h-7zM1589 258h6v1h-6zM1595 257h4v1h-4zM1599 256h5v1h-5zM1604 255h4v1h-4zM1608 254h4v1h-4zM1612 253h5v1h-5zM1617 252h5v1h-5zM1622 251h5v1h-5zM1627 250h4v1h-4zM1631 249h5v1h-5zM1636 248h7v1h-7zM1643 247h10v1h-10zM1653 246h11v1h-11z" fill="#FF0000"/>
<path d="M973 28h2v1h-2zM975 29h3v1h-3zM978 30h3v1h-3zM981 31h2v1h-2zM983 32h3v1h-3zM986 33h3v1h-3zM989 34h3v1h-3zM992 35h3v1h-3zM995 36h3v1h-3zM998 37h3v1h-3zM1001 38h2v1h-2zM1003 39h3v1h-3zM1006 40h3v1h-3zM1009 41h3v1h-3zM1012 42h3v1h-3zM1015 43h3v1h-3zM1018 44h2v1h-2zM1020 45h3v1h-3zM1023 46h3v1h-3zM1026 47h3v1h-3zM1029 48h3v1h-3zM1032 49h3v1h-3zM1035 50h3v1h-3zM1038 51h2v1h-2zM1040 52h3v1h-3zM1043 53h3v1h-3zM1046 54h3v1h-3zM1049 55h3v1h-3zM1052 56h3v1h-3zM1055 57h3v1h-3zM1058 58h2v1h-2zM1060 59h3v1h-3zM1063 60h3v1h-3zM1066 61h3v1h-3zM1069 62h3v1h-3zM1072 63h3v1h-3zM1075 64h2v1h-2zM1077 65h3v1h-3zM1080 66h3v1h-3zM1083 67h3v1h-3zM1086 68h3v1h-3zM1089 69h3v1h-3zM1092 70h3v1h-3zM1095 71h2v1h-2zM1097 72h3v1h-3zM1100 73h3v1h-3zM1103 74h3v1h-3zM1106 75h3v1h-3zM1109 76h3v1h-3zM1112 77h2v1h-2zM1114 78h3v1h-3zM1117 79h3v1h-3zM1120 80h3v1h-3zM1123 81h3v1h-3zM1126 82h3v1h-3zM1129 83h3v1h-3zM1132 84h2v1h-2zM1134 85h3v1h-3zM1137 86h3v1h-3zM1140 87h3v1h-3zM1143 88h3v1h-3zM1146 89h3v1h-3zM1149 90h3v1h-3zM1152 91h2v1h-2zM1154 92h3v1h-3zM1157 93h3v1h-3zM1160 94h3v1h-3zM1163 95h3v1h-3zM1166 96h3v1h-3zM1169 97h2v1h-2zM1171 98h3v1h-3zM1174 99h3v1h-3zM1177 100h3v1h-3zM1180 101h3v1h-3zM1183 102h3v1h-3zM1186 103h3v1h-3zM1189 104h2v1h-2zM1191 105h3v1h-3zM1194 106h3v1h-3zM1197 107h3v1h-3zM1200 108h3v1h-3zM1203 109h3v1h-3zM1206 110h2v1h-2zM1208 111h3v1h-3zM1211 112h3v1h-3zM1214 113h3v1h-3zM1217 114h3v1h-3zM1220 115h3v1h-3zM1223 116h3v1h-3zM1226 117h2v1h-2zM1228 118h3v1h-3zM1231 119h3v1h-3zM1234 120h3v1h-3zM1237 121h3v1h-3zM1240 122h3v1h-3zM1243 123h2v1h-2zM1245 124h3v1h-3zM1248 125h3v1h-3zM1251 126h3v1h-3zM1254 127h3v1h-3zM1257 128h3v1h-3zM1260 129h3v1h-3zM1263 130h2v1h-2zM1265 131h3v1h-3zM1268 132h3v1h-3zM1271 133h3v1h-3zM1274 134h3v1h-3zM1277 135h3v1h-3zM1280 136h3v1h-3zM1283 137h2v1h-2zM1285 138h3v1h-3zM1288 139h3v1h-3zM1291 140h3v1h-3zM1294 141h3v1h-3zM1297 142h3v1h-3zM1300 143h2v1h-2zM1302 144h3v1h-3zM1305 145h3v1h-3zM1308 146h3v1h-3zM1311 147h3v1h-3zM1314 148h3v1h-3zM1317 149h3v1h-3zM1320 150h2v1h-2zM1322 151h3v1h-3zM1325 152h3v1h-3zM1328 153h3v1h-3zM1331 154h3v1h-3zM1334 155h3v1h-3zM1337 156h2v1h-2zM1339 157h3v1h-3zM1342 158h3v1h-3zM1345 159h3v1h-3zM1348 160h3v1h-3zM1351 161h3v1h-3zM1354 162h3v1h-3zM1357 163h2v1h-2zM1359 164h3v1h-3zM1362 165h3v1h-3zM1365 166h3v1h-3zM1368 167h3v1h-3zM1371 168h3v1h-3zM1374 169h2v1h-2zM1376 170h3v1h-3zM1379 171h3v1h-3zM1382 172h3v1h-3zM1385 173h3v1h-3zM1388 174h3v1h-3zM1391 175h3v1h-3zM1394 176h2v1h-2zM1396 177h3v1h-3zM1399 178h3v1h-3zM1402 179h3v1h-3zM1405 180h3v1h-3zM1408 181h3v1h-3zM1411 182h3v1h-3zM1414 183h2v1h-2zM1416 184h3v1h-3zM1419 185h3v1h-3zM1422 186h3v1h-3zM1425 187h3v1h-3zM1428 188h3v1h-3zM1431 189h2v1h-2zM1433 190h3v1h-3zM1436 191h3v1h-3zM1439 192h3v1h-3zM1442 193h3v1h-3zM1445 194h3v1h-3zM1448 195h3v1h-3zM1451 196h2v1h-2zM1453 197h3v1h-3zM1456 198h3v1h-3zM1459 199h3v1h-3zM1462 200h3v1h-3zM1465 201h3v1h-3zM1468 202h2v1h-2zM1470 203h3v1h-3zM1473 204h3v1h-3zM1476 205h3v1h-3zM1479 206h3v1h-3zM1482 207h3v1h-3zM1485 208h3v1h-3zM1488 209h2v1h-2zM1490 210h3v1h-3zM1493 211h3v1h-3zM1496 212h3v1h-3zM1499 213h3v1h-3zM1502 214h3v1h-3zM1505 215h3v1h-3zM1508 216h2v1h-2zM1510 217h3v1h-3zM1513 218h3v1h-3zM1516 219h3v1h-3zM1519 220h3v1h-3zM1522 221h3v1h-3zM1525 222h2v1h-2zM1527 223h3v1h-3zM1530 224h3v1h-3zM1533 225h3v1h-3zM1536 226h3v1h-3zM1539 227h3v1h-3zM1542 228h3v1h-3zM1545 229h2v1h-2zM1547 230h3v1h-3zM1550 231h3v1h-3zM1553 232h3v1h-3zM1556 233h3v1h-3zM1559 234h3v1h-3zM1562 235h2v1h-2zM1564 236h3v1h-3zM1567 237h3v1h-3zM1570 238h3v1h-3zM1573 239h3v1h-3zM1576 240h3v1h-3zM1579 241h3v1h-3zM1582 242h2v1h-2zM1584 243h3v1h-3zM1587 244h3v1h-3zM1590 245h3v1h-3zM1593 246h3v1h-3zM1596 247h3v1h-3zM1599 248h2v1h-2zM1601 249h3v1h-3zM1604 250h3v1h-3zM1607 251h3v1h-3zM1610 252h3v1h-3zM1613 253h3v1h-3zM1616 254h3v1h-3zM1619 255h2v1h-2zM1621 256h3v1h-3zM1624 257h3v1h-3zM1627 258h3v1h-3zM1630 259h3v1h-3zM1633 260h3v1h-3zM1636 261h3v1h-3zM1639 262h2v1h-2zM1641 263h3v1h-3zM1644 264h3v1h-3zM1647 265h3v1h-3zM1650 266h3v1h-3zM1653 267h3v1h-3zM1656 268h2v1h-2zM1658 269h3v1h-3zM1661 270h3v1h-3zM1664 271h3v1h-3zM1667 272h3v1h-3zM1670 273h3v1h-3zM1673 274h3v1h-3zM1676 275h2v1h-2zM1678 276h3v1h-3zM1681 277h3v1h-3zM1684 278h2v1h-2z" fill="#4169E1"/>
<path d="M1326 58h2v1h-2zM1328 59h3v1h-3zM1331 60h3v1h-3zM1334 61h3v1h-3zM1337 62h2v1h-2zM1339 63h3v1h-3zM1342 64h3v1h-3zM1345 65h3v1h-3zM1348 66h3v1h-3zM1351 67h3v1h-3zM1354 68h3v1h-3zM1357 69h3v1h-3zM1360 70h2v1h-2zM1362 71h3v1h-3zM1365 72h3v1h-3zM1368 73h3v1h-3zM1371 74h3v1h-3zM1374 75h3v1h-3zM1377 76h3v1h-3zM1380 77h3v1h-3zM1383 78h2v1h-2zM1385 79h3v1h-3zM1388 80h3v1h-3zM1391 81h3v1h-3zM1394 82h3v1h-3zM1397 83h3v1h-3zM1400 84h3v1h-3zM1403 85h2v1h-2zM1405 86h3v1h-3zM1408 87h3v1h-3zM1411 88h3v1h-3zM1414 89h3v1h-3zM1417 90h3v1h-3zM1420 91h3v1h-3zM1423 92h3v1h-3zM1426 93h2v1h-2zM1428 94h3v1h-3zM1431 95h3v1h-3zM1434 96h3v1h-3zM1437 97h3v1h-3zM1440 98h3v1h-3zM1443 99h3v1h-3zM1446 100h3v1h-3zM1449 101h2v1h-2zM1451 102h3v1h-3zM1454 103h3v1h-3zM1457 104h3v1h-3zM1460 105h3v1h-3zM1463 106h3v1h-3zM1466 107h3v1h-3zM1469 108h3v1h-3zM1472 109h2v1h-2zM1474 110h3v1h-3zM1477 111h3v1h-3zM1480 112h3v1h-3zM1483 113h3v1h-3zM1486 114h3v1h-3zM1489 115h3v1h-3zM1492 116h3v1h-3zM1495 117h2v1h-2zM1497 118h3v1h-3zM1500 119h3v1h-3zM1503 120h3v1h-3zM1506 121h3v1h-3zM1509 122h3v1h-3zM1512 123h3v1h-3zM1515 124h2v1h-2zM1517 125h3v1h-3zM1520 126h3v1h-3zM1523 127h3v1h-3zM1526 128h3v1h-3zM1529 129h3v1h-3zM1532 130h3v1h-3zM1535 131h3v1h-3zM1538 132h2v1h-2zM1540 133h3v1h-3zM1543 134h3v1h-3zM1546 135h3v1h-3zM1549 136h3v1h-3zM1552 137h3v1h-3zM1555 138h3v1h-3zM1558 139h3v1h-3zM1561 140h2v1h-2zM1563 141h3v1h-3zM1566 142h3v1h-3zM1569 143h3v1h-3zM1572 144h3v1h-3zM1575 145h3v1h-3zM1578 146h3v1h-3zM1581 147h3v1h-3zM1584 148h2v1h-2zM1586 149h3v1h-3zM1589 150h3v1h-3zM1592 151h3v1h-3zM1595 152h3v1h-3zM1598 153h3v1h-3zM1601 154h3v1h-3zM1604 155h3v1h-3zM1607 156h2v1h-2zM1609 157h3v1h-3zM1612 158h3v1h-3zM1615 159h3v1h-3zM1618 160h3v1h-3zM1621 161h3v1h-3zM1624 162h3v1h-3zM1627 163h2v1h-2zM1629 164h3v1h-3zM1632 165h3v1h-3zM1635 166h3v1h-3zM1638 167h3v1h-3zM1641 168h3v1h-3zM1644 169h3v1h-3zM1647 170h3v1h-3zM1650 171h2v1h-2zM1652 172h3v1h-3zM1655 173h3v1h-3zM1658 174h3v1h-3zM1661 175h3v1h-3zM1664 176h3v1h-3zM1667 177h3v1h-3zM1670 178h3v1h-3zM1673 179h2v1h-2zM1675 180h3v1h-3zM1678 181h3v1h-3zM1681 182h3v1h-3zM1684 183h2v1h-2z" fill="#4169E1"/>
<rect x="5" y="107" width="1680" height="2" fill="#FF0000"/>
<rect x="5" y="217" width="1680" height="2" fill="#32CD32"/>
<rect x="5" y="291" width="1680" height="2" fill="#4169E1"/>
<rect x="5" y="419" width="1680" height="2" fill="#4169E1"/>
</g>
<rect x="5" y="105" width="6" height="6" fill="#FF0000"/><rect x="7" y="107" width="2" height="2" fill="#fff"/>
<rect x="1679" y="105" width="6" height="6" fill="#FF0000"/><rect x="1681" y="107" width="2" height="2" fill="#fff"/>
<g clip-path="url(#cd)">
<rect x="6" y="562" width="1" height="59" fill="#C0C0C0"/>
<rect x="14" y="565" width="1" height="56" fill="#C0C0C0"/>
<rect x="22" y="569" width="1" height="52" fill="#C0C0C0"/>
<rect x="30" y="571" width="1" height="50" fill="#C0C0C0"/>
<rect x="38" y="575" width="1" height="46" fill="#C0C0C0"/>
<rect x="46" y="578" width="1" height="43" fill="#C0C0C0"/>
<rect x="54" y="582" width="1" height="39" fill="#C0C0C0"/>
<rect x="62" y="585" width="1" height="36" fill="#C0C0C0"/>
<rect x="70" y="587" width="1" height="34" fill="#C0C0C0"/>
<rect x="78" y="586" width="1" height="35" fill="#C0C0C0"/>
<rect x="86" y="584" width="1" height="37" fill="#C0C0C0"/>
<rect x="94" y="575" width="1" height="46" fill="#C0C0C0"/>
<rect x="102" y="570" width="1" height="51" fill="#C0C0C0"/>
<rect x="110" y="567" width="1" height="54" fill="#C0C0C0"/>
<rect x="118" y="563" width="1" height="58" fill="#C0C0C0"/>
<rect x="126" y="562" width="1" height="59" fill="#C0C0C0"/>
<rect x="134" y="559" width="1" height="62" fill="#C0C0C0"/>
<rect x="142" y="558" width="1" height="63" fill="#C0C0C0"/>
<rect x="150" y="551" width="1" height="70" fill="#C0C0C0"/>
<rect x="158" y="544" width="1" height="77" fill="#C0C0C0"/>
<rect x="166" y="540" width="1" height="81" fill="#C0C0C0"/>
<rect x="174" y="536" width="1" height="85" fill="#C0C0C0"/>
<rect x="182" y="533" width="1" height="88" fill="#C0C0C0"/>
<rect x="190" y="533" width="1" height="88" fill="#C0C0C0"/>
<rect x="198" y="529" width="1" height="92" fill="#C0C0C0"/>
<rect x="206" y="529" width="1" height="92" fill="#C0C0C0"/>
<rect x="214" y="530" width="1" height="91" fill="#C0C0C0"/>
<rect x="222" y="533" width="1" height="88" fill="#C0C0C0"/>
<rect x="230" y="542" width="1" height="79" fill="#C0C0C0"/>
<rect x="238" y="545" width="1" height="76" fill="#C0C0C0"/>
<rect x="246" y="551" width="1" height="70" fill="#C0C0C0"/>
<rect x="254" y="554" width="1" height="67" fill="#C0C0C0"/>
<rect x="262" y="559" width="1" height="62" fill="#C0C0C0"/>
<rect x="270" y="564" width="1" height="57" fill="#C0C0C0"/>
<rect x="278" y="566" width="1" height="55" fill="#C0C0C0"/>
<rect x="286" y="564" width="1" height="57" fill="#C0C0C0"/>
<rect x="294" y="567" width="1" height="54" fill="#C0C0C0"/>
<rect x="302" y="572" width="1" height="49" fill="#C0C0C0"/>
<rect x="310" y="577" width="1" height="44" fill="#C0C0C0"/>
<rect x="318" y="585" width="1" height="36" fill="#C0C0C0"/>
<rect x="326" y="595" width="1" height="26" fill="#C0C0C0"/>
<rect x="334" y="605" width="1" height="16" fill="#C0C0C0"/>
<rect x="342" y="613" width="1" height="8" fill="#C0C0C0"/>
<rect x="350" y="620" width="1" height="1" fill="#C0C0C0"/>
<rect x="358" y="620" width="1" height="10" fill="#C0C0C0"/>
<rect x="366" y="620" width="1" height="16" fill="#C0C0C0"/>
<rect x="374" y="620" width="1" height="22" fill="#C0C0C0"/>
<rect x="382" y="620" width="1" height="22" fill="#C0C0C0"/>
<rect x="390" y="620" width="1" height="19" fill="#C0C0C0"/>
<rect x="398" y="620" width="1" height="16" fill="#C0C0C0"/>
<rect x="406" y="620" width="1" height="15" fill="#C0C0C0"/>
<rect x="414" y="620" width="1" height="14" fill="#C0C0C0"/>
<rect x="422" y="620" width="1" height="14" fill="#C0C0C0"/>
<rect x="430" y="620" width="1" height="21" fill="#C0C0C0"/>
<rect x="438" y="620" width="1" height="23" fill="#C0C0C0"/>
<rect x="446" y="620" width="1" height="22" fill="#C0C0C0"/>
<rect x="454" y="620" width="1" height="20" fill="#C0C0C0"/>
<rect x="462" y="620" width="1" height="19" fill="#C0C0C0"/>
<rect x="470" y="620" width="1" height="17" fill="#C0C0C0"/>
<rect x="478" y="620" width="1" height="13" fill="#C0C0C0"/>
<rect x="486" y="620" width="1" height="5" fill="#C0C0C0"/>
<rect x="494" y="617" width="1" height="4" fill="#C0C0C0"/>
<rect x="502" y="612" width="1" height="9" fill="#C0C0C0"/>
<rect x="510" y="609" width="1" height="12" fill="#C0C0C0"/>
<rect x="518" y="604" width="1" height="17" fill="#C0C0C0"/>
<rect x="526" y="597" width="1" height="24" fill="#C0C0C0"/>
<rect x="534" y="591" width="1" height="30" fill="#C0C0C0"/>
<rect x="542" y="585" width="1" height="36" fill="#C0C0C0"/>
<rect x="550" y="583" width="1" height="38" fill="#C0C0C0"/>
<rect x="558" y="583" width="1" height="38" fill="#C0C0C0"/>
<rect x="566" y="582" width="1" height="39" fill="#C0C0C0"/>
<rect x="574" y="581" width="1" height="40" fill="#C0C0C0"/>
<rect x="582" y="585" width="1" height="36" fill="#C0C0C0"/>
<rect x="590" y="587" width="1" height="34" fill="#C0C0C0"/>
<rect x="598" y="588" width="1" height="33" fill="#C0C0C0"/>
<rect x="606" y="590" width="1" height="31" fill="#C0C0C0"/>
<rect x="614" y="593" width="1" height="28" fill="#C0C0C0"/>
<rect x="622" y="597" width="1" height="24" fill="#C0C0C0"/>
<rect x="630" y="602" width="1" height="19" fill="#C0C0C0"/>
<rect x="638" y="604" width="1" height="17" fill="#C0C0C0"/>
<rect x="646" y="608" width="1" height="13" fill="#C0C0C0"/>
<rect x="654" y="616" width="1" height="5" fill="#C0C0C0"/>
<rect x="662" y="620" width="1" height="1" fill="#C0C0C0"/>
<rect x="670" y="620" width="1" height="1" fill="#C0C0C0"/>
<rect x="678" y="620" width="1" height="3" fill="#C0C0C0"/>
<rect x="686" y="620" width="1" height="3" fill="#C0C0C0"/>
<rect x="694" y="620" width="1" height="5" fill="#C0C0C0"/>
<rect x="702" y="620" width="1" height="4" fill="#C0C0C0"/>
<rect x="710" y="620" width="1" height="6" fill="#C0C0C0"/>
<rect x="718" y="620" width="1" height="5" fill="#C0C0C0"/>
<rect x="726" y="620" width="1" height="7" fill="#C0C0C0"/>
<rect x="734" y="620" width="1" height="4" fill="#C0C0C0"/>
<rect x="742" y="620" width="1" height="2" fill="#C0C0C0"/>
<rect x="750" y="620" width="1" height="2" fill="#C0C0C0"/>
<rect x="758" y="620" width="1" height="1" fill="#C0C0C0"/>
<rect x="766" y="618" width="1" height="3" fill="#C0C0C0"/>
<rect x="774" y="620" width="1" height="4" fill="#C0C0C0"/>
<rect x="782" y="620" width="1" height="11" fill="#C0C0C0"/>
<rect x="790" y="620" width="1" height="16" fill="#C0C0C0"/>
<rect x="798" y="620" width="1" height="20" fill="#C0C0C0"/>
<rect x="806" y="620" width="1" height="28" fill="#C0C0C0"/>
<rect x="814" y="620" width="1" height="31" fill="#C0C0C0"/>
<rect x="822" y="620" width="1" height="28" fill="#C0C0C0"/>
<rect x="830" y="620" width="1" height="23" fill="#C0C0C0"/>
<rect x="838" y="620" width="1" height="21" fill="#C0C0C0"/>
<rect x="846" y="620" width="1" height="17" fill="#C0C0C0"/>
<rect x="854" y="620" width="1" height="14" fill="#C0C0C0"/>
<rect x="862" y="620" width="1" height="10" fill="#C0C0C0"/>
<rect x="870" y="620" width="1" height="6" fill="#C0C0C0"/>
<rect x="878" y="620" width="1" height="4" fill="#C0C0C0"/>
<rect x="886" y="620" width="1" height="3" fill="#C0C0C0"/>
<rect x="894" y="620" width="1" height="4" fill="#C0C0C0"/>
<rect x="902" y="620" width="1" height="5" fill="#C0C0C0"/>
<rect x="910" y="620" width="1" height="6" fill="#C0C0C0"/>
<rect x="918" y="620" width="1" height="5" fill="#C0C0C0"/>
<rect x="926" y="620" width="1" height="1" fill="#C0C0C0"/>
<rect x="934" y="620" width="1" height="1" fill="#C0C0C0"/>
<rect x="942" y="620" width="1" height="1" fill="#C0C0C0"/>
<rect x="950" y="620" width="1" height="1" fill="#C0C0C0"/>
<rect x="958" y="620" width="1" height="1" fill="#C0C0C0"/>
<rect x="966" y="620" width="1" height="3" fill="#C0C0C0"/>
<rect x="974" y="620" width="1" height="7" fill="#C0C0C0"/>
<rect x="982" y="620" width="1" height="10" fill="#C0C0C0"/>
<rect x="990" y="620" width="1" height="11" fill="#C0C0C0"/>
<rect x="998" y="620" width="1" height="13" fill="#C0C0C0"/>
<rect x="1006" y="620" width="1" height="12" fill="#C0C0C0"/>
<rect x="1014" y="620" width="1" height="6" fill="#C0C0C0"/>
<rect x="1022" y="620" width="1" height="1" fill="#C0C0C0"/>
<rect x="1030" y="616" width="1" height="5" fill="#C0C0C0"/>
<rect x="1038" y="612" width="1" height="9" fill="#C0C0C0"/>
<rect x="1046" y="608" width="1" height="13" fill="#C0C0C0"/>
<rect x="1054" y="605" width="1" height="16" fill="#C0C0C0"/>
<rect x="1062" y="604" width="1" height="17" fill="#C0C0C0"/>
<rect x="1070" y="607" width="1" height="14" fill="#C0C0C0"/>
<rect x="1078" y="608" width="1" height="13" fill="#C0C0C0"/>
<rect x="1086" y="609" width="1" height="12" fill="#C0C0C0"/>
<rect x="1094" y="611" width="1" height="10" fill="#C0C0C0"/>
<rect x="1102" y="614" width="1" height="7" fill="#C0C0C0"/>
<rect x="1110" y="618" width="1" height="3" fill="#C0C0C0"/>
<rect x="1118" y="620" width="1" height="1" fill="#C0C0C0"/>
<rect x="1126" y="620" width="1" height="2" fill="#C0C0C0"/>
<rect x="1134" y="620" width="1" height="3" fill="#C0C0C0"/>
<rect x="1142" y="620" width="1" height="3" fill="#C0C0C0"/>
<rect x="1150" y="620" width="1" height="2" fill="#C0C0C0"/>
<rect x="1158" y="620" width="1" height="1" fill="#C0C0C0"/>
<rect x="1166" y="620" width="1" height="1" fill="#C0C0C0"/>
<rect x="1174" y="620" width="1" height="1" fill="#C0C0C0"/>
<rect x="1182" y="620" width="1" height="1" fill="#C0C0C0"/>
<rect x="1190" y="620" width="1" height="2" fill="#C0C0C0"/>
<rect x="1198" y="620" width="1" height="1" fill="#C0C0C0"/>
<rect x="1206" y="618" width="1" height="3" fill="#C0C0C0"/>
<rect x="1214" y="614" width="1" height="7" fill="#C0C0C0"/>
<rect x="1222" y="611" width="1" height="10" fill="#C0C0C0"/>
<rect x="1230" y="610" width="1" height="11" fill="#C0C0C0"/>
<rect x="1238" y="609" width="1" height="12" fill="#C0C0C0"/>
<rect x="1246" y="608" width="1" height="13" fill="#C0C0C0"/>
<rect x="1254" y="602" width="1" height="19" fill="#C0C0C0"/>
<rect x="1262" y="597" width="1" height="24" fill="#C0C0C0"/>
<rect x="1270" y="594" width="1" height="27" fill="#C0C0C0"/>
<rect x="1278" y="591" width="1" height="30" fill="#C0C0C0"/>
<rect x="1286" y="588" width="1" height="33" fill="#C0C0C0"/>
<rect x="1294" y="588" width="1" height="33" fill="#C0C0C0"/>
<rect x="1302" y="583" width="1" height="38" fill="#C0C0C0"/>
<rect x="1310" y="580" width="1" height="41" fill="#C0C0C0"/>
<rect x="1318" y="574" width="1" height="47" fill="#C0C0C0"/>
<rect x="1326" y="569" width="1" height="52" fill="#C0C0C0"/>
<rect x="1334" y="566" width="1" height="55" fill="#C0C0C0"/>
<rect x="1342" y="563" width="1" height="58" fill="#C0C0C0"/>
<rect x="1350" y="571" width="1" height="50" fill="#C0C0C0"/>
<rect x="1358" y="579" width="1" height="42" fill="#C0C0C0"/>
<rect x="1366" y="584" width="1" height="37" fill="#C0C0C0"/>
<rect x="1374" y="589" width="1" height="32" fill="#C0C0C0"/>
<rect x="1382" y="594" width="1" height="27" fill="#C0C0C0"/>
<rect x="1390" y="597" width="1" height="24" fill="#C0C0C0"/>
<rect x="1398" y="598" width="1" height="23" fill="#C0C0C0"/>
<rect x="1406" y="597" width="1" height="24" fill="#C0C0C0"/>
<rect x="1414" y="597" width="1" height="24" fill="#C0C0C0"/>
<rect x="1422" y="596" width="1" height="25" fill="#C0C0C0"/>
<rect x="1430" y="596" width="1" height="25" fill="#C0C0C0"/>
<rect x="1438" y="595" width="1" height="26" fill="#C0C0C0"/>
<rect x="1446" y="595" width="1" height="26" fill="#C0C0C0"/>
<rect x="1454" y="595" width="1" height="26" fill="#C0C0C0"/>
<rect x="1462" y="597" width="1" height="24" fill="#C0C0C0"/>
<rect x="1470" y="601" width="1" height="20" fill="#C0C0C0"/>
<rect x="1478" y="605" width="1" height="16" fill="#C0C0C0"/>
<rect x="1486" y="609" width="1" height="12" fill="#C0C0C0"/>
<rect x="1494" y="616" width="1" height="5" fill="#C0C0C0"/>
<rect x="1502" y="620" width="1" height="1" fill="#C0C0C0"/>
<rect x="1510" y="620" width="1" height="4" fill="#C0C0C0"/>
<rect x="1518" y="620" width="1" height="7" fill="#C0C0C0"/>
<rect x="1526" y="620" width="1" height="6" fill="#C0C0C0"/>
<rect x="1534" y="620" width="1" height="7" fill="#C0C0C0"/>
<rect x="1542" y="620" width="1" height="7" fill="#C0C0C0"/>
<rect x="1550" y="620" width="1" height="6" fill="#C0C0C0"/>
<rect x="1558" y="620" width="1" height="7" fill="#C0C0C0"/>
<rect x="1566" y="620" width="1" height="8" fill="#C0C0C0"/>
<rect x="1574" y="620" width="1" height="9" fill="#C0C0C0"/>
<rect x="1582" y="620" width="1" height="9" fill="#C0C0C0"/>
<rect x="1590" y="620" width="1" height="9" fill="#C0C0C0"/>
<rect x="1598" y="620" width="1" height="10" fill="#C0C0C0"/>
<rect x="1606" y="620" width="1" height="10" fill="#C0C0C0"/>
<rect x="1614" y="620" width="1" height="9" fill="#C0C0C0"/>
<rect x="1622" y="620" width="1" height="9" fill="#C0C0C0"/>
<rect x="1630" y="620" width="1" height="10" fill="#C0C0C0"/>
<rect x="1638" y="620" width="1" height="13" fill="#C0C0C0"/>
<rect x="1646" y="620" width="1" height="18" fill="#C0C0C0"/>
<rect x="1654" y="620" width="1" height="21" fill="#C0C0C0"/>
<rect x="1662" y="620" width="1" height="23" fill="#C0C0C0"/>
<path d="M6 568h2v1h-2zM8 567h1v1h-1zM12 565h2v1h-2zM14 564h1v1h-1zM18 564h3v1h-3zM24 563h3v1h-3zM30 563h3v1h-3zM36 564h3v1h-3zM42 565h3v1h-3zM48 566h2v1h-2zM50 567h1v1h-1zM54 568h2v1h-2zM56 569h1v1h-1zM60 570h2v1h-2zM62 571h1v1h-1zM66 572h2v1h-2zM68 573h1v1h-1zM72 574h2v1h-2zM74 575h1v1h-1zM78 576h3v1h-3zM84 577h3v1h-3zM90 578h3v1h-3zM96 579h3v1h-3zM102 579h3v1h-3zM108 578h3v1h-3zM114 577h3v1h-3zM120 576h3v1h-3zM126 575h1v1h-1zM127 574h2v1h-2zM132 573h1v1h-1zM133 572h2v1h-2zM138 571h1v1h-1zM139 570h2v1h-2zM144 568h1v1h-1zM145 567h2v1h-2zM150 565h1v1h-1zM151 564h2v1h-2zM156 562h1v1h-1zM157 561h2v1h-2zM162 559h1v1h-1zM163 558h2v1h-2zM168 556h1v1h-1zM169 555h2v1h-2zM174 553h1v1h-1zM175 552h2v1h-2zM180 550h1v1h-1zM181 549h2v1h-2zM186 547h2v1h-2zM188 546h1v1h-1zM192 544h2v1h-2zM194 543h1v1h-1zM198 542h1v1h-1zM199 541h2v1h-2zM204 539h1v1h-1zM205 538h2v1h-2zM210 536h3v1h-3zM216 535h2v1h-2zM218 534h1v1h-1zM222 534h1v1h-1zM223 533h2v1h-2zM228 533h3v1h-3zM234 534h3v1h-3zM240 534h3v1h-3zM246 535h3v1h-3zM252 537h2v1h-2zM254 538h1v1h-1zM258 540h3v1h-3zM264 542h2v1h-2zM266 543h1v1h-1zM270 545h2v1h-2zM272 546h1v1h-1zM276 548h2v1h-2zM278 549h1v1h-1zM282 551h2v1h-2zM284 552h1v1h-1zM288 553h1v1h-1zM289 554h2v1h-2zM294 556h1v1h-1zM295 557h2v1h-2zM300 559h2v1h-2zM302 560h1v1h-1zM306 562h2v1h-2zM308 563h1v1h-1zM312 564h1v1h-1zM313 565h2v1h-2zM318 567h2v1h-2zM320 568h1v1h-1zM324 570h2v1h-2zM326 571h1v1h-1zM330 573h1v1h-1zM331 574h1v1h-1zM332 575h1v1h-1zM336 577h1v1h-1zM337 578h1v1h-1zM338 579h1v1h-1zM342 582h2v1h-2zM344 583h1v1h-1zM348 586h1v1h-1zM349 587h1v1h-1zM350 588h1v1h-1zM354 591h1v1h-1zM355 592h2v1h-2zM360 595h1v1h-1zM361 596h1v1h-1zM362 597h1v1h-1zM366 601h1v1h-1zM367 602h1v1h-1zM368 603h1v1h-1zM372 607h1v1h-1zM373 608h1v1h-1zM374 609h1v1h-1zM378 613h1v1h-1zM379 614h1v1h-1zM380 615h1v1h-1zM384 618h1v1h-1zM385 619h2v1h-2zM390 622h1v1h-1zM391 623h1v1h-1zM392 624h1v1h-1zM396 626h1v1h-1zM397 627h2v1h-2zM402 630h2v1h-2zM404 631h1v1h-1zM408 632h2v1h-2zM410 633h1v1h-1zM414 634h3v1h-3zM420 635h1v1h-1zM421 636h2v1h-2zM426 637h3v1h-3zM432 638h3v1h-3zM438 638h3v1h-3zM444 638h3v1h-3zM450 638h3v1h-3zM456 638h3v1h-3zM462 638h1v1h-1zM463 639h2v1h-2zM468 639h3v1h-3zM474 638h3v1h-3zM480 638h2v1h-2zM482 637h1v1h-1zM486 637h1v1h-1zM487 636h2v1h-2zM492 635h2v1h-2zM494 634h1v1h-1zM498 633h3v1h-3zM504 631h1v1h-1zM505 630h2v1h-2zM510 628h1v1h-1zM511 627h2v1h-2zM516 625h1v1h-1zM517 624h1v1h-1zM518 623h1v1h-1zM522 621h2v1h-2zM524 620h1v1h-1zM528 618h1v1h-1zM529 617h1v1h-1zM530 616h1v1h-1zM534 613h1v1h-1zM535 612h1v1h-1zM536 611h1v1h-1zM540 608h1v1h-1zM541 607h1v1h-1zM542 606h1v1h-1zM546 603h2v1h-2zM548 602h1v1h-1zM552 599h2v1h-2zM554 598h1v1h-1zM558 596h2v1h-2zM560 595h1v1h-1zM564 593h2v1h-2zM566 592h1v1h-1zM570 591h1v1h-1zM571 590h2v1h-2zM576 589h1v1h-1zM577 588h2v1h-2zM582 587h1v1h-1zM583 586h2v1h-2zM588 585h3v1h-3zM594 585h2v1h-2zM596 584h1v1h-1zM600 584h3v1h-3zM606 584h3v1h-3zM612 585h3v1h-3zM618 586h3v1h-3zM624 587h2v1h-2zM626 588h1v1h-1zM630 589h3v1h-3zM636 590h2v1h-2zM638 591h1v1h-1zM642 592h1v1h-1zM643 593h2v1h-2zM648 595h3v1h-3zM654 597h2v1h-2zM656 598h1v1h-1zM660 600h2v1h-2zM662 601h1v1h-1zM666 603h2v1h-2zM668 604h1v1h-1zM672 605h1v1h-1zM673 606h2v1h-2zM678 608h1v1h-1zM679 609h2v1h-2zM684 611h2v1h-2zM686 612h1v1h-1zM690 613h1v1h-1zM691 614h2v1h-2zM696 616h3v1h-3zM702 617h1v1h-1zM703 618h2v1h-2zM708 619h3v1h-3zM714 620h1v1h-1zM715 621h2v1h-2zM720 621h1v1h-1zM721 622h2v1h-2zM726 622h1v1h-1zM727 623h2v1h-2zM732 623h3v1h-3zM738 623h3v1h-3zM744 624h3v1h-3zM750 624h3v1h-3zM756 624h3v1h-3zM762 624h3v1h-3zM768 623h3v1h-3zM774 623h3v1h-3zM780 623h3v1h-3zM786 624h3v1h-3zM792 625h3v1h-3zM798 626h3v1h-3zM804 627h2v1h-2zM806 628h1v1h-1zM810 630h2v1h-2zM812 631h1v1h-1zM816 633h2v1h-2zM818 634h1v1h-1zM822 635h2v1h-2zM824 636h1v1h-1zM828 637h2v1h-2zM830 638h1v1h-1zM834 639h3v1h-3zM840 640h1v1h-1zM841 641h2v1h-2zM846 642h3v1h-3zM852 642h2v1h-2zM854 641h1v1h-1zM858 641h3v1h-3zM864 641h2v1h-2zM866 640h1v1h-1zM870 640h2v1h-2zM872 639h1v1h-1zM876 638h1v1h-1zM877 637h2v1h-2zM882 635h2v1h-2zM884 634h1v1h-1zM888 633h2v1h-2zM890 632h1v1h-1zM894 631h2v1h-2zM896 630h1v1h-1zM900 629h3v1h-3zM906 628h3v1h-3zM912 627h3v1h-3zM918 626h3v1h-3zM924 626h2v1h-2zM926 625h1v1h-1zM930 625h3v1h-3zM936 624h3v1h-3zM942 624h3v1h-3zM948 623h3v1h-3zM954 623h2v1h-2zM956 622h1v1h-1zM960 622h3v1h-3zM966 622h3v1h-3zM972 622h3v1h-3zM978 622h2v1h-2zM980 623h1v1h-1zM984 623h2v1h-2zM986 624h1v1h-1zM990 624h2v1h-2zM992 625h1v1h-1zM996 625h3v1h-3zM1002 626h3v1h-3zM1008 626h3v1h-3zM1014 626h3v1h-3zM1020 627h3v1h-3zM1026 627h1v1h-1zM1027 626h2v1h-2zM1032 625h3v1h-3zM1038 624h3v1h-3zM1044 623h1v1h-1zM1045 622h2v1h-2zM1050 621h3v1h-3zM1056 619h2v1h-2zM1058 618h1v1h-1zM1062 617h1v1h-1zM1063 616h2v1h-2zM1068 614h3v1h-3zM1074 612h3v1h-3zM1080 610h3v1h-3zM1086 609h3v1h-3zM1092 608h3v1h-3zM1098 608h3v1h-3zM1104 608h3v1h-3zM1110 608h3v1h-3zM1116 609h3v1h-3zM1122 610h1v1h-1zM1123 611h2v1h-2zM1128 612h2v1h-2zM1130 613h1v1h-1zM1134 614h3v1h-3zM1140 615h2v1h-2zM1142 616h1v1h-1zM1146 616h1v1h-1zM1147 617h2v1h-2zM1152 618h3v1h-3zM1158 618h1v1h-1zM1159 619h2v1h-2zM1164 619h3v1h-3zM1170 620h3v1h-3zM1176 620h1v1h-1zM1177 621h2v1h-2zM1182 621h3v1h-3zM1188 622h3v1h-3zM1194 622h3v1h-3zM1200 621h3v1h-3zM1206 621h3v1h-3zM1212 620h3v1h-3zM1218 619h3v1h-3zM1224 619h1v1h-1zM1225 618h2v1h-2zM1230 618h1v1h-1zM1231 617h2v1h-2zM1236 617h1v1h-1zM1237 616h2v1h-2zM1242 615h3v1h-3zM1248 614h1v1h-1zM1249 613h2v1h-2zM1254 612h2v1h-2zM1256 611h1v1h-1zM1260 610h1v1h-1zM1261 609h2v1h-2zM1266 607h2v1h-2zM1268 606h1v1h-1zM1272 605h1v1h-1zM1273 604h2v1h-2zM1278 602h3v1h-3zM1284 600h3v1h-3zM1290 599h2v1h-2zM1292 598h1v1h-1zM1296 596h2v1h-2zM1298 595h1v1h-1zM1302 593h2v1h-2zM1304 592h1v1h-1zM1308 591h2v1h-2zM1310 590h1v1h-1zM1314 589h2v1h-2zM1316 588h1v1h-1zM1320 587h1v1h-1zM1321 586h2v1h-2zM1326 584h3v1h-3zM1332 582h2v1h-2zM1334 581h1v1h-1zM1338 579h2v1h-2zM1340 578h1v1h-1zM1344 577h1v1h-1zM1345 576h2v1h-2zM1350 575h3v1h-3zM1356 574h3v1h-3zM1362 574h1v1h-1zM1363 573h2v1h-2zM1368 573h3v1h-3zM1374 574h3v1h-3zM1380 575h1v1h-1zM1381 576h2v1h-2zM1386 577h2v1h-2zM1388 578h1v1h-1zM1392 579h3v1h-3zM1398 581h2v1h-2zM1400 582h1v1h-1zM1404 584h2v1h-2zM1406 585h1v1h-1zM1410 587h2v1h-2zM1412 588h1v1h-1zM1416 589h3v1h-3zM1422 591h3v1h-3zM1428 592h3v1h-3zM1434 593h2v1h-2zM1436 594h1v1h-1zM1440 594h3v1h-3zM1446 595h3v1h-3zM1452 595h3v1h-3zM1458 595h3v1h-3zM1464 595h3v1h-3zM1470 595h3v1h-3zM1476 596h3v1h-3zM1482 597h3v1h-3zM1488 598h2v1h-2zM1490 599h1v1h-1zM1494 600h3v1h-3zM1500 602h1v1h-1zM1501 603h2v1h-2zM1506 605h1v1h-1zM1507 606h2v1h-2zM1512 608h2v1h-2zM1514 609h1v1h-1zM1518 610h1v1h-1zM1519 611h2v1h-2zM1524 613h3v1h-3zM1530 615h2v1h-2zM1532 616h1v1h-1zM1536 617h1v1h-1zM1537 618h2v1h-2zM1542 619h1v1h-1zM1543 620h2v1h-2zM1548 621h1v1h-1zM1549 622h2v1h-2zM1554 623h3v1h-3zM1560 624h1v1h-1zM1561 625h2v1h-2zM1566 626h3v1h-3zM1572 626h2v1h-2zM1574 627h1v1h-1zM1578 627h3v1h-3zM1584 627h3v1h-3zM1590 627h3v1h-3zM1596 628h3v1h-3zM1602 628h3v1h-3zM1608 628h3v1h-3zM1614 628h1v1h-1zM1615 629h2v1h-2zM1620 629h3v1h-3zM1626 629h3v1h-3zM1632 629h3v1h-3zM1638 629h3v1h-3zM1644 630h3v1h-3zM1650 631h3v1h-3zM1656 632h3v1h-3z" fill="#FF0000"/>
</g>
<g clip-path="url(#cr)">
<line x1="6" y1="691.5" x2="1685" y2="691.5" stroke="#C0C0C0" stroke-width="1" stroke-dasharray="3 3"/>
<line x1="6" y1="730.5" x2="1685" y2="730.5" stroke="#C0C0C0" stroke-width="1" stroke-dasharray="3 3"/>
<path d="M6 695h1v1h-1zM7 696h2v1h-2zM9 697h1v1h-1zM10 698h2v1h-2zM12 699h1v1h-1zM13 700h2v1h-2zM15 701h25v1h-25zM40 702h8v1h-8zM48 703h3v1h-3zM51 704h3v1h-3zM54 705h4v1h-4zM58 704h5v1h-5zM63 703h5v1h-5zM68 702h4v1h-4zM72 701h2v1h-2zM74 700h2v1h-2zM76 699h2v1h-2zM78 698h2v1h-2zM80 697h2v1h-2zM82 696h2v1h-2zM84 695h2v1h-2zM86 694h1v1h-1zM87 693h1v1h-1zM88 692h1v1h-1zM89 691h1v1h-1zM90 690h1v1h-1zM91 689h1v1h-1zM92 688h1v1h-1zM93 687h1v1h-1zM94 686h3v1h-3zM97 687h5v1h-5zM102 688h5v1h-5zM107 689h7v1h-7zM114 688h5v1h-5zM119 689h3v1h-3zM122 690h3v1h-3zM125 691h3v1h-3zM128 690h3v1h-3zM131 689h2v1h-2zM133 688h10v1h-10zM143 687h1v1h-1zM144 686h1v1h-1zM145 685h2v1h-2zM147 684h1v1h-1zM148 683h1v1h-1zM149 682h4v1h-4zM153 681h6v1h-6zM159 680h19v1h-19zM178 679h6v1h-6zM184 680h4v1h-4zM188 681h3v1h-3zM191 680h3v1h-3zM194 679h3v1h-3zM197 678h2v1h-2zM199 679h2v1h-2zM201 680h1v1h-1zM202 681h2v1h-2zM204 682h1v1h-1zM205 683h2v1h-2zM207 684h4v1h-4zM211 685h3v1h-3zM214 686h2v1h-2zM216 687h2v1h-2zM218 688h1v1h-1zM219 689h2v1h-2zM221 690h1v1h-1zM222 691h1v1h-1zM223 692h1v1h-1zM224 693h1v1h-1zM225 694h1v1h-1zM226 695h1v1h-1zM227 696h1v1h-1zM228 697h1v1h-1zM229 698h1v1h-1zM230 699h1v1h-1zM231 698h2v1h-2zM233 697h2v1h-2zM235 696h1v1h-1zM236 695h2v1h-2zM238 694h1v1h-1zM239 695h1v1h-1zM240 696h1v1h-1zM241 697h2v1h-2zM243 698h1v1h-1zM244 699h1v1h-1zM245 700h1v1h-1zM246 701h2v1h-2zM248 700h2v1h-2zM250 699h2v1h-2zM252 698h2v1h-2zM254 697h2v1h-2zM256 698h2v1h-2zM258 699h2v1h-2zM260 700h2v1h-2zM262 701h2v1h-2zM264 702h4v1h-4zM268 703h3v1h-3zM271 702h3v1h-3zM274 701h3v1h-3zM277 700h2v1h-2zM279 699h1v1h-1zM280 698h1v1h-1zM281 697h2v1h-2zM283 696h1v1h-1zM284 695h1v1h-1zM285 694h1v1h-1zM286 693h1v1h-1zM287 694h1v1h-1zM288 695h1v2h-1zM289 697h1v1h-1zM290 698h1v1h-1zM291 699h1v1h-1zM292 700h1v2h-1zM293 702h1v1h-1zM294 703h3v1h-3zM297 704h4v1h-4zM301 705h6v1h-6zM307 706h4v1h-4zM311 707h2v1h-2zM313 708h2v1h-2zM315 709h1v1h-1zM316 710h2v1h-2zM318 711h1v1h-1zM319 712h2v1h-2zM321 713h2v1h-2zM323 714h2v1h-2zM325 715h2v1h-2zM327 716h2v1h-2zM329 717h2v1h-2zM331 718h2v1h-2zM333 719h6v1h-6zM339 718h5v1h-5zM344 719h2v1h-2zM346 720h2v1h-2zM348 721h3v1h-3zM351 722h3v1h-3zM354 723h2v1h-2zM356 724h3v1h-3zM359 723h2v1h-2zM361 722h2v1h-2zM363 721h2v1h-2zM365 720h3v1h-3zM368 721h2v1h-2zM370 722h2v1h-2zM372 723h2v1h-2zM374 724h1v1h-1zM375 723h1v1h-1zM376 722h1v1h-1zM377 721h1v1h-1zM378 720h2v1h-2zM380 719h1v1h-1zM381 718h1v1h-1zM382 717h1v1h-1zM383 716h1v1h-1zM384 715h1v1h-1zM385 714h1v1h-1zM386 713h2v1h-2zM388 712h1v1h-1zM389 711h1v1h-1zM390 710h5v1h-5zM395 711h5v1h-5zM400 712h2v1h-2zM402 713h2v1h-2zM404 714h12v1h-12zM416 713h3v1h-3zM419 712h2v1h-2zM421 711h2v1h-2zM423 712h1v2h-1zM424 714h1v1h-1zM425 715h1v1h-1zM426 716h1v2h-1zM427 718h1v1h-1zM428 719h1v1h-1zM429 720h1v2h-1zM430 722h1v1h-1zM431 721h2v1h-2zM433 720h1v1h-1zM434 719h1v1h-1zM435 718h2v1h-2zM437 717h2v1h-2zM439 716h3v1h-3zM442 715h2v1h-2zM444 714h6v1h-6zM450 713h6v1h-6zM456 714h4v1h-4zM460 715h3v1h-3zM463 714h2v1h-2zM465 713h2v1h-2zM467 712h2v1h-2zM469 711h2v1h-2zM471 710h4v1h-4zM475 709h4v1h-4zM479 708h2v1h-2zM481 707h1v1h-1zM482 706h1v1h-1zM483 705h2v1h-2zM485 704h1v1h-1zM486 703h2v1h-2zM488 702h3v1h-3zM491 701h2v1h-2zM493 700h3v1h-3zM496 701h3v1h-3zM499 702h2v1h-2zM501 703h5v1h-5zM506 704h5v1h-5zM511 703h3v1h-3zM514 702h2v1h-2zM516 701h3v1h-3zM519 700h2v1h-2zM521 699h2v1h-2zM523 698h2v1h-2zM525 697h5v1h-5zM530 696h8v1h-8zM538 695h6v1h-6zM544 696h4v1h-4zM548 697h3v1h-3zM551 698h2v1h-2zM553 699h2v1h-2zM555 700h2v1h-2zM557 701h4v1h-4zM561 700h4v1h-4zM565 699h6v1h-6zM571 698h4v1h-4zM575 699h1v2h-1zM576 701h1v1h-1zM577 702h1v2h-1zM578 704h1v1h-1zM579 705h1v2h-1zM580 707h1v1h-1zM581 708h1v2h-1zM582 710h1v1h-1zM583 709h1v1h-1zM584 708h1v1h-1zM585 707h2v1h-2zM587 706h1v1h-1zM588 705h1v1h-1zM589 704h12v1h-12zM601 705h4v1h-4zM605 706h11v1h-11zM616 707h2v1h-2zM618 708h2v1h-2zM620 709h2v1h-2zM622 710h2v1h-2zM624 711h4v1h-4zM628 712h3v1h-3zM631 711h2v1h-2zM633 710h2v1h-2zM635 709h2v1h-2zM637 708h1v1h-1zM638 709h2v1h-2zM640 710h2v1h-2zM642 711h2v1h-2zM644 712h2v1h-2zM646 713h1v1h-1zM647 714h2v1h-2zM649 715h1v1h-1zM650 716h1v1h-1zM651 717h2v1h-2zM653 718h1v1h-1zM654 719h3v1h-3zM657 718h4v1h-4zM661 717h2v1h-2zM663 716h2v1h-2zM665 715h2v1h-2zM667 714h1v1h-1zM668 713h2v1h-2zM670 712h2v1h-2zM672 713h3v1h-3zM675 714h2v1h-2zM677 715h3v1h-3zM680 714h2v1h-2zM682 713h2v1h-2zM684 712h4v1h-4zM688 713h4v1h-4zM692 714h4v1h-4zM696 713h3v1h-3zM699 712h2v1h-2zM701 711h3v1h-3zM704 712h3v1h-3zM707 713h2v1h-2zM709 714h3v1h-3zM712 713h3v1h-3zM715 712h2v1h-2zM717 711h3v1h-3zM720 712h2v1h-2zM722 713h2v1h-2zM724 714h2v1h-2zM726 715h1v1h-1zM727 714h1v1h-1zM728 713h1v1h-1zM729 712h1v1h-1zM730 711h1v1h-1zM731 710h1v1h-1zM732 709h1v1h-1zM733 708h1v1h-1zM734 707h5v1h-5zM739 708h8v1h-8zM747 709h5v1h-5zM752 708h3v1h-3zM755 707h2v1h-2zM757 706h6v1h-6zM763 707h4v1h-4zM767 708h1v2h-1zM768 710h1v2h-1zM769 712h1v1h-1zM770 713h1v2h-1zM771 715h1v1h-1zM772 716h1v2h-1zM773 718h1v2h-1zM774 720h2v1h-2zM776 721h3v1h-3zM779 722h2v1h-2zM781 723h5v1h-5zM786 722h13v1h-13zM799 723h1v1h-1zM800 724h1v1h-1zM801 725h2v1h-2zM803 726h1v1h-1zM804 727h1v1h-1zM805 728h1v1h-1zM806 729h1v1h-1zM807 728h2v1h-2zM809 727h1v1h-1zM810 726h1v1h-1zM811 725h2v1h-2zM813 724h1v1h-1zM814 723h1v1h-1zM815 722h1v1h-1zM816 721h1v1h-1zM817 720h1v1h-1zM818 718h1v2h-1zM819 717h1v1h-1zM820 716h1v1h-1zM821 715h1v1h-1zM822 714h1v1h-1zM823 713h2v1h-2zM825 712h2v1h-2zM827 711h2v1h-2zM829 710h5v1h-5zM834 711h13v1h-13zM847 710h3v1h-3zM850 709h3v1h-3zM853 708h5v1h-5zM858 707h15v1h-15zM873 708h3v1h-3zM876 709h6v1h-6zM882 710h6v1h-6zM888 711h2v1h-2zM890 712h2v1h-2zM892 713h12v1h-12zM904 714h4v1h-4zM908 715h3v1h-3zM911 714h2v1h-2zM913 713h2v1h-2zM915 712h2v1h-2zM917 711h1v1h-1zM918 710h1v1h-1zM919 709h2v1h-2zM921 708h1v1h-1zM922 707h1v1h-1zM923 706h2v1h-2zM925 705h1v1h-1zM926 704h1v1h-1zM927 705h2v1h-2zM929 706h2v1h-2zM931 707h1v1h-1zM932 708h2v1h-2zM934 709h4v1h-4zM938 710h6v1h-6zM944 709h4v1h-4zM948 708h4v1h-4zM952 709h4v1h-4zM956 710h2v1h-2zM958 711h1v1h-1zM959 712h1v1h-1zM960 713h1v1h-1zM961 714h1v1h-1zM962 715h1v1h-1zM963 716h1v1h-1zM964 717h1v1h-1zM965 718h1v1h-1zM966 719h14v1h-14zM980 718h6v1h-6zM986 717h6v1h-6zM992 718h4v1h-4zM996 719h3v1h-3zM999 718h2v1h-2zM1001 717h1v1h-1zM1002 716h2v1h-2zM1004 715h1v1h-1zM1005 714h2v1h-2zM1007 713h1v1h-1zM1008 711h1v2h-1zM1009 710h1v1h-1zM1010 708h1v2h-1zM1011 707h1v1h-1zM1012 706h1v1h-1zM1013 704h1v2h-1zM1014 703h2v1h-2zM1016 702h3v1h-3zM1019 701h2v1h-2zM1021 700h6v1h-6zM1027 701h9v1h-9zM1036 700h6v1h-6zM1042 699h4v1h-4zM1046 698h6v1h-6zM1052 699h6v1h-6zM1058 700h2v1h-2zM1060 701h2v1h-2zM1062 702h2v1h-2zM1064 703h1v1h-1zM1065 704h1v1h-1zM1066 705h1v1h-1zM1067 706h1v2h-1zM1068 708h1v1h-1zM1069 709h1v1h-1zM1070 710h1v1h-1zM1071 711h3v1h-3zM1074 710h4v1h-4zM1078 709h17v1h-17zM1095 710h2v1h-2zM1097 711h2v1h-2zM1099 712h2v1h-2zM1101 713h2v1h-2zM1103 714h2v1h-2zM1105 715h2v1h-2zM1107 716h2v1h-2zM1109 717h2v1h-2zM1111 718h9v1h-9zM1120 717h3v1h-3zM1123 716h3v1h-3zM1126 715h5v1h-5zM1131 714h5v1h-5zM1136 713h2v1h-2zM1138 712h2v1h-2zM1140 711h2v1h-2zM1142 710h10v1h-10zM1152 709h3v1h-3zM1155 708h2v1h-2zM1157 707h2v1h-2zM1159 708h2v1h-2zM1161 709h2v1h-2zM1163 710h2v1h-2zM1165 711h2v1h-2zM1167 712h19v1h-19zM1186 713h4v1h-4zM1190 712h1v1h-1zM1191 711h1v1h-1zM1192 710h1v1h-1zM1193 709h2v1h-2zM1195 708h1v1h-1zM1196 707h1v1h-1zM1197 706h1v1h-1zM1198 705h2v1h-2zM1200 704h2v1h-2zM1202 703h2v1h-2zM1204 702h3v1h-3zM1207 701h2v1h-2zM1209 700h2v1h-2zM1211 699h2v1h-2zM1213 698h3v1h-3zM1216 697h4v1h-4zM1220 696h2v1h-2zM1222 697h1v1h-1zM1223 698h2v1h-2zM1225 699h1v1h-1zM1226 700h1v1h-1zM1227 701h2v1h-2zM1229 702h1v1h-1zM1230 703h3v1h-3zM1233 702h4v1h-4zM1237 701h6v1h-6zM1243 700h4v1h-4zM1247 698h1v2h-1zM1248 697h1v1h-1zM1249 695h1v2h-1zM1250 694h1v1h-1zM1251 692h1v2h-1zM1252 691h1v1h-1zM1253 689h1v2h-1zM1254 688h5v1h-5zM1259 689h17v1h-17zM1276 690h5v1h-5zM1281 689h2v1h-2zM1283 688h2v1h-2zM1285 687h1v1h-1zM1286 688h2v1h-2zM1288 689h2v1h-2zM1290 690h1v1h-1zM1291 691h1v1h-1zM1292 692h1v2h-1zM1293 694h1v1h-1zM1294 695h1v1h-1zM1295 694h1v1h-1zM1296 693h1v1h-1zM1297 692h1v1h-1zM1298 690h1v2h-1zM1299 689h1v1h-1zM1300 688h1v1h-1zM1301 687h1v1h-1zM1302 686h1v1h-1zM1303 687h2v1h-2zM1305 688h1v1h-1zM1306 689h1v1h-1zM1307 690h2v1h-2zM1309 691h1v1h-1zM1310 692h1v1h-1zM1311 691h2v1h-2zM1313 690h1v1h-1zM1314 689h1v1h-1zM1315 688h2v1h-2zM1317 687h1v1h-1zM1318 686h5v1h-5zM1323 685h16v1h-16zM1339 684h4v1h-4zM1342 685h1v1h-1zM1343 686h1v3h-1zM1344 689h1v3h-1zM1345 692h1v3h-1zM1346 695h1v3h-1zM1347 698h1v3h-1zM1348 701h1v3h-1zM1349 704h1v3h-1zM1350 707h1v1h-1zM1350 708h3v1h-3zM1353 709h4v1h-4zM1357 710h4v1h-4zM1361 709h4v1h-4zM1365 708h6v1h-6zM1371 707h5v1h-5zM1376 708h2v1h-2zM1378 709h2v1h-2zM1380 710h2v1h-2zM1382 711h2v1h-2zM1384 710h3v1h-3zM1387 709h2v1h-2zM1389 708h3v1h-3zM1392 707h2v1h-2zM1394 706h2v1h-2zM1396 705h3v1h-3zM1399 704h3v1h-3zM1402 703h2v1h-2zM1404 702h6v1h-6zM1410 701h9v1h-9zM1419 700h16v1h-16zM1435 699h5v1h-5zM1440 700h2v1h-2zM1442 701h2v1h-2zM1444 702h2v1h-2zM1446 703h3v1h-3zM1449 702h4v1h-4zM1453 701h3v1h-3zM1456 702h3v1h-3zM1459 703h2v1h-2zM1461 704h3v1h-3zM1464 705h2v1h-2zM1466 706h2v1h-2zM1468 707h2v1h-2zM1470 708h1v1h-1zM1471 709h2v1h-2zM1473 710h1v1h-1zM1474 711h1v1h-1zM1475 712h2v1h-2zM1477 713h1v1h-1zM1478 714h9v1h-9zM1487 715h1v1h-1zM1488 716h1v1h-1zM1489 717h1v1h-1zM1490 718h2v1h-2zM1492 719h1v1h-1zM1493 720h1v1h-1zM1494 721h1v1h-1zM1495 722h5v1h-5zM1500 721h7v1h-7zM1507 720h8v1h-8zM1515 719h4v1h-4zM1519 718h1v1h-1zM1520 717h1v1h-1zM1521 716h1v1h-1zM1522 714h1v2h-1zM1523 713h1v1h-1zM1524 712h1v1h-1zM1525 711h1v1h-1zM1526 710h1v1h-1zM1527 711h2v1h-2zM1529 712h2v1h-2zM1531 713h1v1h-1zM1532 714h2v1h-2zM1534 715h5v1h-5zM1539 714h5v1h-5zM1544 713h2v1h-2zM1546 712h2v1h-2zM1548 711h2v1h-2zM1550 710h2v1h-2zM1552 711h2v1h-2zM1554 712h2v1h-2zM1556 713h2v1h-2zM1558 714h3v1h-3zM1561 715h4v1h-4zM1565 716h6v1h-6zM1571 717h8v1h-8zM1579 716h7v1h-7zM1586 715h14v1h-14zM1600 716h3v1h-3zM1603 717h2v1h-2zM1605 718h2v1h-2zM1607 717h1v1h-1zM1608 715h1v2h-1zM1609 714h1v1h-1zM1610 713h1v1h-1zM1611 712h1v1h-1zM1612 710h1v2h-1zM1613 709h1v1h-1zM1614 708h2v1h-2zM1616 709h2v1h-2zM1618 710h2v1h-2zM1620 711h2v1h-2zM1622 712h2v1h-2zM1624 713h2v1h-2zM1626 714h2v1h-2zM1628 715h2v1h-2zM1630 716h1v1h-1zM1631 717h1v1h-1zM1632 718h1v1h-1zM1633 719h1v1h-1zM1634 720h1v2h-1zM1635 722h1v1h-1zM1636 723h1v1h-1zM1637 724h1v1h-1zM1638 725h3v1h-3zM1641 726h4v1h-4zM1645 727h14v1h-14zM1659 726h3v1h-3z" fill="#1E90FF"/>
</g>
<rect x="5" y="29" width="1681" height="1" fill="#000"/>
<rect x="5" y="518" width="1681" height="1" fill="#000"/>
<rect x="5" y="29" width="1" height="490" fill="#000"/>
<rect x="1685" y="29" width="1" height="490" fill="#000"/>
<rect x="5" y="520" width="1681" height="1" fill="#000"/>
<rect x="5" y="658" width="1681" height="1" fill="#000"/>
<rect x="5" y="520" width="1" height="139" fill="#000"/>
<rect x="1685" y="520" width="1" height="139" fill="#000"/>
<rect x="5" y="660" width="1681" height="1" fill="#000"/>
<rect x="5" y="760" width="1681" height="1" fill="#000"/>
<rect x="5" y="660" width="1" height="101" fill="#000"/>
<rect x="1685" y="660" width="1" height="101" fill="#000"/>
<rect x="1685" y="107" width="1" height="2" fill="#FF0000"/>
<rect x="1685" y="217" width="1" height="2" fill="#32CD32"/>
<rect x="1685" y="291" width="1" height="2" fill="#4169E1"/>
<rect x="1685" y="419" width="1" height="2" fill="#4169E1"/>
<rect x="1686" y="53" width="2" height="1" fill="#000"/>
<rect x="1686" y="86" width="2" height="1" fill="#000"/>
<rect x="1686" y="119" width="2" height="1" fill="#000"/>
<rect x="1686" y="152" width="2" height="1" fill="#000"/>
<rect x="1686" y="185" width="2" height="1" fill="#000"/>
<rect x="1686" y="218" width="2" height="1" fill="#000"/>
<rect x="1686" y="251" width="2" height="1" fill="#000"/>
<rect x="1686" y="284" width="2" height="1" fill="#000"/>
<rect x="1686" y="317" width="2" height="1" fill="#000"/>
<rect x="1686" y="350" width="2" height="1" fill="#000"/>
<rect x="1686" y="383" width="2" height="1" fill="#000"/>
<rect x="1686" y="416" width="2" height="1" fill="#000"/>
<rect x="1686" y="449" width="2" height="1" fill="#000"/>
<rect x="1686" y="482" width="2" height="1" fill="#000"/>
<rect x="1686" y="515" width="2" height="1" fill="#000"/>
<rect x="1686" y="522" width="1" height="1" fill="#000"/>
<rect x="1686" y="620" width="1" height="1" fill="#000"/>
<rect x="1686" y="657" width="1" height="1" fill="#000"/>
<rect x="1686" y="662" width="1" height="1" fill="#000"/>
<rect x="1686" y="691" width="1" height="1" fill="#000"/>
<rect x="1686" y="730" width="1" height="1" fill="#000"/>
<rect x="1686" y="759" width="1" height="1" fill="#000"/>
<rect x="6" y="761" width="1" height="3" fill="#000"/>
<rect x="70" y="761" width="1" height="3" fill="#000"/>
<rect x="134" y="761" width="1" height="3" fill="#000"/>
<rect x="198" y="761" width="1" height="3" fill="#000"/>
<rect x="262" y="761" width="1" height="3" fill="#000"/>
<rect x="326" y="761" width="1" height="3" fill="#000"/>
<rect x="390" y="761" width="1" height="3" fill="#000"/>
<rect x="454" y="761" width="1" height="3" fill="#000"/>
<rect x="518" y="761" width="1" height="3" fill="#000"/>
<rect x="582" y="761" width="1" height="3" fill="#000"/>
<rect x="646" y="761" width="1" height="3" fill="#000"/>
<rect x="710" y="761" width="1" height="3" fill="#000"/>
<rect x="774" y="761" width="1" height="3" fill="#000"/>
<rect x="838" y="761" width="1" height="3" fill="#000"/>
<rect x="902" y="761" width="1" height="3" fill="#000"/>
<rect x="966" y="761" width="1" height="3" fill="#000"/>
<rect x="1030" y="761" width="1" height="3" fill="#000"/>
<rect x="1094" y="761" width="1" height="3" fill="#000"/>
<rect x="1158" y="761" width="1" height="3" fill="#000"/>
<rect x="1222" y="761" width="1" height="3" fill="#000"/>
<rect x="1286" y="761" width="1" height="3" fill="#000"/>
<rect x="1350" y="761" width="1" height="3" fill="#000"/>
<rect x="1414" y="761" width="1" height="3" fill="#000"/>
<rect x="1478" y="761" width="1" height="3" fill="#000"/>
<rect x="1542" y="761" width="1" height="3" fill="#000"/>
<rect x="1606" y="761" width="1" height="3" fill="#000"/>
<path d="M9 36h7l-3.5 4z" fill="#000" shape-rendering="auto"/>
</svg>
<svg style="position:absolute;left:0;top:0" width="1722" height="780"><g fill="#EC1C24"><text x="1361.1" y="377.4" font-size="41" letter-spacing="-2" font-family="'Liberation Sans','Noto Sans CJK SC',sans-serif">多空转折点</text><text x="1557.8" y="375.5" font-size="42.3" font-family="'Liberation Sans',sans-serif">1</text></g></svg>
<div id="dg" style="position:absolute;left:1581.3px;top:337px;font-size:42.3px;line-height:46px;letter-spacing:-1.2px;color:#EC1C24;white-space:nowrap;font-family:'Liberation Sans',sans-serif;transform:scale(1,1.048);transform-origin:0 0">720</div>
<div class="t ax" style="left:1691px;top:49px;">1764.85</div><div class="t ax" style="left:1691px;top:82px;">1756.10</div><div class="t ax" style="left:1691px;top:115px;">1747.10</div><div class="t ax" style="left:1691px;top:148px;">1738.10</div><div class="t ax" style="left:1691px;top:181px;">1729.10</div><div class="t ax" style="left:1691px;top:214px;">1720.10</div><div class="t ax" style="left:1691px;top:247px;">1711.10</div><div class="t ax" style="left:1691px;top:280px;">1702.10</div><div class="t ax" style="left:1691px;top:313px;">1693.10</div><div class="t ax" style="left:1691px;top:346px;">1684.10</div><div class="t ax" style="left:1691px;top:379px;">1675.10</div><div class="t ax" style="left:1691px;top:412px;">1666.35</div><div class="t ax" style="left:1691px;top:445px;">1657.35</div><div class="t ax" style="left:1691px;top:478px;">1648.35</div><div class="t ax" style="left:1691px;top:511px;">1639.35</div><div style="position:absolute;left:1687px;top:102px;width:35px;height:11px;background:#FF0000"></div><div class="t ax" style="left:1691px;top:103px;color:#fff;">1750.00</div><div style="position:absolute;left:1687px;top:212px;width:35px;height:11px;background:#32CD32"></div><div class="t ax" style="left:1691px;top:213px;color:#fff;">1720.00</div><div style="position:absolute;left:1687px;top:243px;width:35px;height:11px;background:#000"></div><div class="t ax" style="left:1691px;top:244px;color:#fff;">1711.93</div><div style="position:absolute;left:1687px;top:286px;width:35px;height:11px;background:#4169E1"></div><div class="t ax" style="left:1691px;top:287px;color:#fff;">1700.00</div><div style="position:absolute;left:1687px;top:414px;width:35px;height:11px;background:#4169E1"></div><div class="t ax" style="left:1691px;top:415px;color:#fff;">1665.00</div><div class="t ax" style="left:1688.5px;top:524px;">23.457</div><div class="t ax" style="left:1688.5px;top:616px;">0.00</div><div class="t ax" style="left:1688.5px;top:647px;">-8.895</div><div class="t ax" style="left:1688.5px;top:663px;">100</div><div class="t ax" style="left:1688.5px;top:687px;">70</div><div class="t ax" style="left:1688.5px;top:726px;">30</div><div class="t ax" style="left:1688.5px;top:749px;">0</div><div class="t tm" style="left:5px;top:765px;">7 Apr 2020</div><div class="t tm" style="left:69px;top:765px;">9 Apr 00:00</div><div class="t tm" style="left:133px;top:765px;">13 Apr 04:00</div><div class="t tm" style="left:197px;top:765px;">14 Apr 12:00</div><div class="t tm" style="left:261px;top:765px;">15 Apr 20:00</div><div class="t tm" style="left:325px;top:765px;">17 Apr 04:00</div><div class="t tm" style="left:389px;top:765px;">20 Apr 12:00</div><div class="t tm" style="left:453px;top:765px;">21 Apr 20:00</div><div class="t tm" style="left:517px;top:765px;">23 Apr 04:00</div><div class="t tm" style="left:581px;top:765px;">24 Apr 12:00</div><div class="t tm" style="left:645px;top:765px;">27 Apr 20:00</div><div class="t tm" style="left:709px;top:765px;">29 Apr 04:00</div><div class="t tm" style="left:773px;top:765px;">30 Apr 12:00</div><div class="t tm" style="left:837px;top:765px;">3 May 23:00</div><div class="t tm" style="left:901px;top:765px;">5 May 04:00</div><div class="t tm" style="left:965px;top:765px;">6 May 12:00</div><div class="t tm" style="left:1029px;top:765px;">7 May 20:00</div><div class="t tm" style="left:1093px;top:765px;">11 May 04:00</div><div class="t tm" style="left:1157px;top:765px;">12 May 12:00</div><div class="t tm" style="left:1221px;top:765px;">13 May 20:00</div><div class="t tm" style="left:1285px;top:765px;">15 May 04:00</div><div class="t tm" style="left:1349px;top:765px;">18 May 12:00</div><div class="t tm" style="left:1413px;top:765px;">19 May 20:00</div><div class="t tm" style="left:1477px;top:765px;">21 May 04:00</div><div class="t tm" style="left:1541px;top:765px;">22 May 12:00</div><div class="t tm" style="left:1605px;top:765px;">25 May 22:00</div><div class="t" style="left:20.5px;top:33px;transform:scaleX(.932);">XAUUSD-,H4&nbsp; <span style="margin-left:1.4px">1711.14</span> 1712.35 1710.74 1711.93</div><div class="t" style="left:9.5px;top:525px;transform:scaleX(.9466);">MACD(12,26,9) -5.469 -3.113</div><div class="t" style="left:9.5px;top:665px;transform:scaleX(.9265);">RSI(14) 33.9647</div>
</body></html>
